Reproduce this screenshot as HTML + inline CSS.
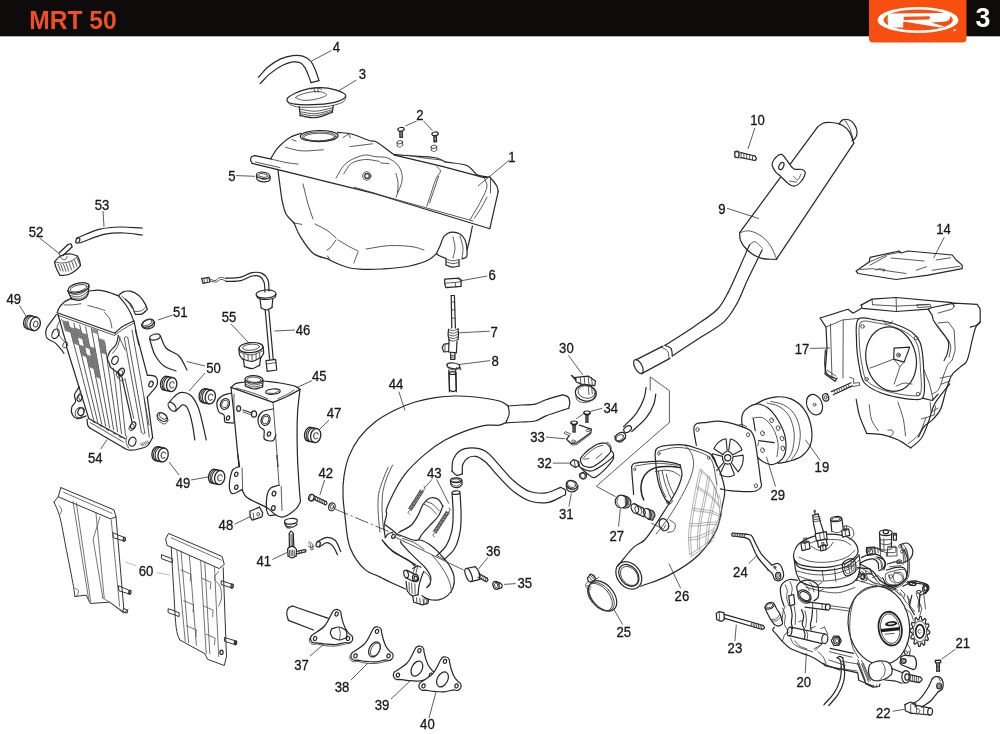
<!DOCTYPE html>
<html><head><meta charset="utf-8">
<style>
html,body{margin:0;padding:0;background:#fff;}
body{width:1000px;height:734px;overflow:hidden;position:relative;font-family:"Liberation Sans",sans-serif;}
#hdr{position:absolute;left:0;top:0;width:1000px;height:36px;background:#0e0c0b;}
#ttl{position:absolute;left:31px;top:5px;font-size:25px;line-height:28px;font-weight:bold;color:#f04f1f;transform:scaleX(.95);transform-origin:0 0;white-space:nowrap;letter-spacing:0;}
#tab{position:absolute;left:869px;top:0;width:97.5px;height:42.5px;background:#f84e10;border-radius:0 0 4px 4px;}
#pg{position:absolute;left:976px;top:3px;font-size:26px;line-height:28px;font-weight:bold;color:#fff;}
svg{position:absolute;left:0;top:0;will-change:transform;}
#ttl,#pg{will-change:transform;}
.l{fill:none;stroke:#262626;stroke-width:1.2;stroke-linecap:round;stroke-linejoin:round;}
.t{fill:none;stroke:#3c3c3c;stroke-width:.85;stroke-linecap:round;stroke-linejoin:round;}
.w{fill:#fff;stroke:#262626;stroke-width:1.2;stroke-linecap:round;stroke-linejoin:round;}
.n{font-family:"Liberation Sans",sans-serif;font-size:14.8px;fill:#161616;stroke:#161616;stroke-width:.3px;}
.ld2{fill:none;stroke:#aaa;stroke-width:.8;}
.ld{fill:none;stroke:#333;stroke-width:.8;}
</style></head><body>
<svg width="1000" height="734" viewBox="0 0 1000 734">
<!--LOGO-->
<rect x="0" y="0" width="1000" height="36.3" fill="#0e0c0b"/>
<path d="M869 0H966.5V38.5Q966.5 42.5 962.5 42.5H873Q869 42.5 869 38.5Z" fill="#f84e10"/>
<text x="29.3" y="28.5" font-family="Liberation Sans, sans-serif" font-weight="bold" font-size="26.2" fill="#f04f1f" textLength="87.4" lengthAdjust="spacingAndGlyphs">MRT 50</text>
<text x="975.6" y="26.6" font-family="Liberation Sans, sans-serif" font-weight="bold" font-size="26.8" fill="#fff">3</text>
<g id="logo">
<ellipse cx="918" cy="20" rx="40.5" ry="13" fill="#fff"/>
<ellipse cx="918.2" cy="20" rx="34.7" ry="10.5" fill="#f84e10"/>
<path d="M888.5 13.6L946 13.1Q951 13.4 950.2 17.2Q949.5 21.3 944 21.8L931 22.4L944.5 26.4L940 27.6L905 21.8L903.2 21.8L903.2 27.6L889 27.6Q886.5 20.5 888.5 13.6Z" fill="#fff"/>
<path d="M903.6 16.7L929.5 16.2Q930.6 17.8 929 19.4L903.6 19.9Z" fill="#f84e10"/>
<circle cx="954.6" cy="30.2" r="1.1" fill="#fff"/>
</g>
<defs><filter id="soft" x="0" y="0" width="1000" height="734" filterUnits="userSpaceOnUse"><feGaussianBlur stdDeviation="0.4"/></filter></defs>
<g filter="url(#soft)">
<!-- 10_tank.svg -->
<!-- tank 1 -->
<path class="l" d="M254.8 155.7C253.8 156 252.4 156 251.7 156.7C251 157.4 250.6 158.8 250.6 159.9C250.6 161 251.5 162 252 163.1"/>
<path class="l" d="M252 163.4 L277.9 169.7 L375 193.7 L489.8 228.7"/>
<path class="l" d="M254.8 155.7 L271.6 159.2"/>
<path class="t" d="M271.6 159.2C276.7 160.4 282.3 161.9 287 162.7C291 163.4 294.5 163.6 298.2 164.1"/>
<path class="t" d="M255.5 162 L280 167.6"/>
<path class="t" d="M354.2 187.2 L385 196.3 L473 221"/>
<path class="l" d="M270.9 158.5C273 155.2 274.4 151.9 277.2 148.7C280.7 144.7 286.7 139.4 291.2 136.8C294.6 134.9 297.7 134.5 301 133.3"/>
<path class="l" d="M337.4 132.3C342.1 132.9 346.4 132.8 351.4 134C357.5 135.4 366.9 140.2 371 141C372.8 141.4 373.4 140.6 375 141.2C378.4 142.4 385.4 148.4 389 151C391.3 152.7 392.7 153.8 394.6 155.2"/>
<ellipse class="l" cx="319.2" cy="136.1" rx="18.9" ry="5.6" transform="rotate(-1 319.2 136.1)"/>
<ellipse class="t" cx="319.2" cy="136.5" rx="17" ry="4.6" transform="rotate(-1 319.2 136.5)"/>
<ellipse class="t" cx="319.2" cy="137" rx="15.5" ry="3.8" transform="rotate(-1 319.2 137)"/>
<path class="t" d="M285.6 147.3C290.7 148.5 295.3 150.3 301 150.8C307.7 151.4 315.9 150.1 323.4 149.8"/>
<path class="t" d="M291.9 139.6 L296.1 141"/>
<path class="t" d="M343 137.5 L348.6 134 L350.3 137.8"/>
<path class="t" d="M350 146.6 L372.4 143.8"/>
<path class="t" d="M336 178.1C339.3 173.2 341.3 167.2 345.8 163.4C350.8 159.2 359.9 155.7 365.4 155C369.1 154.6 371.6 156.1 375 156.6C378.9 157.1 383.7 156.5 387.6 158C391.7 159.6 396.4 162.8 398.8 166.4C401.2 169.9 402.4 174.4 402.3 179C402.1 184.5 398.1 191.1 396 197.2"/>
<path class="t" d="M343.7 173.9C346.3 170.4 347.9 165.8 351.4 163.4C355.1 160.9 360.7 159.8 365.4 159.5C370 159.2 374.7 160.8 379.4 161.4"/>
<path class="t" d="M380.6 162.9 L389 163.6"/>
<path class="t" d="M396 173.4C396.7 176.7 397.9 179.9 398.1 183.2C398.3 186.5 397.6 189.7 397.4 193"/>
<circle class="t" cx="366.8" cy="176" r="4.2"/>
<circle class="l" cx="367.1" cy="176" r="2.4"/>
<path class="l" d="M277.9 169.7C278.6 175.1 279.3 180.8 280 185.8C280.6 190.3 281.3 196.2 281.7 198.4C281.8 199.2 281.8 199.2 282 200C282.6 202.4 283.8 210 286 214C288 217.6 291.3 220 294 223"/>
<path class="l" d="M294 223C296 227.3 297.2 231.5 300 236C303.5 241.7 308.7 250.2 314 254C318.3 257.1 323.3 257.3 328 259"/>
<path class="t" d="M294 223 L302 224.4"/>
<path class="l" d="M328 259C329.3 259.7 330.1 260.3 332 261.2C335.8 263 344.1 266.7 350 268C355.4 269.2 360.7 269.2 366 269.4C371.3 269.6 375.9 269.4 382 269C390 268.5 401.5 267.9 410 266C417.3 264.3 425.3 261.7 430 259C432.9 257.3 434.3 255.4 436.4 253.6"/>
<path class="t" d="M327.6 256 L330 260"/>
<path class="t" d="M303 184C304.7 190.7 306.2 197.8 308 204C309.6 209.4 311.3 214 313 219"/>
<path class="t" d="M315 224C319.3 226.3 324.3 228.4 328 231C331.1 233.2 333.3 235.7 336 238"/>
<path class="t" d="M336 240C334 242.7 331.8 246.3 330 248C328.9 249 328 249.3 327 250"/>
<path class="t" d="M338 240C342 242.3 346.4 245 350 247C352.9 248.6 355.3 249.7 358 251"/>
<path class="t" d="M358 252C357 254.7 355.7 258 355 260C354.6 261.2 354.3 262 354 263"/>
<path class="t" d="M366 249C374 247.9 382 245.9 390 245.6C398 245.3 407.8 245.9 414 247C418.1 247.7 420.7 249 424 250"/>
<path class="l" d="M436.4 253.6C437.6 251.1 438.8 248.7 440 246C441.3 243 442.1 238.7 444 236.4C445.6 234.5 447.6 232.9 450 232.4C452.8 231.8 457.4 232.5 460 234C462.3 235.3 463.8 237.6 465 240C466.3 242.8 466.8 247 467 250C467.1 252.5 467.5 255.5 466.4 257C465.5 258.2 463.5 258.3 462 259"/>
<path class="l" d="M436.4 253.6C437.6 254.4 438.6 255.3 440 256C441.7 256.9 444 257.6 446 258.4"/>
<path class="t" d="M453 237C453.7 240.7 455 244.4 455 248C455 251.4 453.7 254.7 453 258"/>
<path class="t" d="M460 236C461 240 462.7 244.2 463 248C463.3 251.5 462.3 254.7 462 258"/>
<path class="l" d="M446 259 L446 265"/>
<path class="l" d="M459 259.6 L459 266"/>
<path class="l" d="M446 265C448.1 265.7 450.2 267 452.4 267.2C454.6 267.4 456.8 266.4 459 266"/>
<path class="t" d="M446 261.6C448.1 262.3 450.2 263.5 452.4 263.6C454.6 263.7 456.8 262.8 459 262.4"/>
<path class="t" d="M446 259C448.1 259.6 450.2 260.7 452.4 260.8C454.6 260.9 456.8 260 459 259.6"/>
<path class="l" d="M467 250C468 246 469.1 242 470 238C470.9 234 471.6 230 472.4 226"/>
<path class="l" d="M394.6 155.2 L442.2 166.4 L484.2 177.6 L489.8 176.9"/>
<path class="l" d="M394.6 154.5C398.3 154.8 401.1 155.1 405.8 155.5C413.5 156.2 429.7 156.2 436.6 158C440.4 159 442.2 160.6 445 161.9"/>
<path class="t" d="M407.2 155.2C412.8 156.1 418.3 157.2 424 158C429.9 158.8 436.1 159.4 442.2 160.1"/>
<path class="l" d="M445 161.9C452.5 163.2 462.6 163.4 467.4 165.7C470.1 167 471.3 169 473 170.6C474.5 172 475.3 173.8 477.2 174.8C479.6 176.1 483.7 176.2 487 176.9"/>
<path class="l" d="M489.8 176.9C492.1 179.9 495.4 183.2 496.8 186C497.8 188 497.7 189.7 498.2 191.6"/>
<path class="l" d="M498.2 191.6 L489.8 228.7"/>
<path class="t" d="M436.6 166.4C437.9 167.9 440.3 169.2 440.5 170.9C440.7 172.9 438 174.5 436.6 177.6C433.8 183.7 430.1 196.7 426.8 206.3"/>
<path class="t" d="M438.7 176.2 L429.6 202.8"/>
<path class="t" d="M484.2 177.6C485.1 180.4 487.1 182.9 487 186C486.9 190.1 483.8 195 481.4 200C478.5 206.1 473.9 213.1 470.2 219.6"/>
<path class="t" d="M490.5 179 L490.5 193"/>
<path class="t" d="M487 197.2C484.7 201.4 482.3 206.1 480 209.8C478.1 212.9 476.3 215.4 474.4 218.2"/>

<!-- 15_top.svg -->
<!-- hose 4 -->
<path class="l" d="M258.3 77.4C261.4 74 264.1 70.3 267.6 67.3C271.3 64.2 275.9 61.1 280.2 59.1C284.2 57.3 288.7 56 292.7 55.6C296.2 55.2 299.7 55.2 302.7 56.1C305.5 57 308.2 58.5 310.2 60.6C312.5 62.9 313.8 66.6 315.3 69.9C316.8 73.3 317.8 77 319 80.6"/>
<path class="l" d="M260.1 83.6C263.4 80.3 266.4 76.6 270.1 73.6C273.9 70.5 278.5 67.3 282.7 65.3C286.4 63.5 290.6 62 293.9 61.8C296.4 61.7 298.8 62 300.7 63.1C302.6 64.2 304 66.2 305.2 68.1C306.5 70.1 307.3 72.5 308.2 74.9C309.2 77.4 310.1 80 311 82.6"/>
<path class="l" d="M311 82.6 L319 80.6"/>
<!-- cap 3 -->
<path class="l" d="M287.2 98.7C287.9 96.8 291.8 94.8 295.2 93.2C300.2 90.9 308.6 88.4 315.3 87.9C321.9 87.4 329.8 88.2 335.3 89.9C339.5 91.2 345.5 93.8 345.8 95.7C346 96.9 344.3 98.2 342.8 99.2C340.2 100.9 334.9 102.3 330.3 103.2C325 104.3 318.6 104.5 312.7 104.7C306.9 104.9 299.7 104.9 295.2 104.2C292.3 103.8 289.4 103.4 288.2 102.2C287.3 101.3 286.8 99.8 287.2 98.7Z"/>
<path class="t" d="M288.2 102.2C288.7 102.9 288.9 103.6 289.7 104.2C291.1 105.2 293.6 106.1 296.4 106.7C300.8 107.6 308.1 107.4 314 107.2C319.9 107 326.3 106.9 331.6 105.7C336.2 104.7 342 103.1 344.1 101.2C345.3 100.2 345.2 98.9 345.8 97.7"/>
<path class="t" d="M295.7 97.4C295.7 96.2 301.6 94.2 305.2 93.2C309.6 92 316.4 91 320.3 91.7C322.9 92.2 326.5 93.8 326.5 94.9C326.5 96.2 321.2 97.8 317.8 98.7C313.5 99.8 306.7 100.8 302.7 100.2C299.9 99.8 295.7 98.5 295.7 97.4Z"/>
<path class="t" d="M314 88.2 L315.3 92.4"/>
<path class="t" d="M317.8 88.2 L318.3 92.2"/>
<path class="t" d="M311.5 89.2C312.9 88.7 314.3 87.8 315.8 87.7C317.6 87.6 319.6 88.7 321.5 89.2"/>
<path class="l" d="M299.2 106.7 L300.2 115.7"/>
<path class="l" d="M333.3 105.7 L332.3 112.5"/>
<path class="l" d="M300.2 115.7C305.2 116.4 310.2 118.1 315.3 117.7C320.8 117.2 326.6 114.2 332.3 112.5"/>
<path class="t" d="M299.5 109.2C304.8 109.9 309.9 111.4 315.3 111.2C321.1 111 327.2 108.9 333.1 107.7"/>
<path class="t" d="M299.7 111.7C304.9 112.4 310 114 315.3 113.7C321 113.4 327 111 332.8 109.7"/>
<path class="t" d="M300 113.7C305.1 114.4 310.1 116 315.3 115.7C320.9 115.3 326.8 112.7 332.6 111.2"/>
<!-- screws 2 -->
<ellipse class="l" cx="401" cy="129.3" rx="3.2" ry="1.8" transform="rotate(-8 401 129.3)"/>
<path class="t" d="M397.8 130C398.9 130.8 399.9 132.3 401 132.3C402.1 132.3 403.2 130.6 404.3 129.8"/>
<path class="l" d="M399.8 131.8 L400 137.3"/>
<path class="l" d="M402.3 131.5 L402.5 137.1"/>
<path class="l" d="M400 137.3 L402.5 137.1"/>
<path class="t" d="M399.8 133 L402.5 132.8"/>
<path class="t" d="M399.8 134.5 L402.5 134.3"/>
<path class="t" d="M399.8 136.1 L402.5 135.8"/>
<ellipse class="t" cx="399.8" cy="142.3" rx="2.8" ry="1.6" transform="rotate(-8 399.8 142.3)"/>
<path class="t" d="M397 142.6 L397.3 145.8"/>
<path class="t" d="M402.5 142.1 L402.8 145.3"/>
<path class="t" d="M397.3 145.8C398.2 146.2 399.1 147.2 400 147.1C400.9 147 401.9 145.9 402.8 145.3"/>
<ellipse class="l" cx="435.1" cy="133.8" rx="3.2" ry="1.8" transform="rotate(-8 435.1 133.8)"/>
<path class="t" d="M431.9 134.5C433 135.3 434 136.8 435.1 136.8C436.2 136.8 437.3 135.1 438.4 134.3"/>
<path class="l" d="M433.9 136.3 L434.1 141.8"/>
<path class="l" d="M436.4 136.1 L436.6 141.6"/>
<path class="l" d="M434.1 141.8 L436.6 141.6"/>
<path class="t" d="M433.9 137.6 L436.6 137.3"/>
<path class="t" d="M433.9 139.1 L436.6 138.8"/>
<path class="t" d="M433.9 140.6 L436.6 140.3"/>
<ellipse class="t" cx="433.9" cy="146.8" rx="2.8" ry="1.6" transform="rotate(-8 433.9 146.8)"/>
<path class="t" d="M431.1 147.1 L431.4 150.3"/>
<path class="t" d="M436.6 146.6 L436.9 149.8"/>
<path class="t" d="M431.4 150.3C432.3 150.7 433.2 151.7 434.1 151.6C435 151.5 436 150.4 436.9 149.8"/>
<!-- grommet 5 -->
<ellipse class="l" cx="263.1" cy="175.4" rx="6.6" ry="3.2" transform="rotate(8 263.1 175.4)"/>
<ellipse class="t" cx="263.1" cy="175.4" rx="4.6" ry="1.8" transform="rotate(8 263.1 175.4)"/>
<path class="l" d="M256.6 174.4C256.8 176.1 256.2 178.2 257.1 179.4C258.2 180.9 261.7 181.8 263.9 181.9C265.9 182 268.6 181.5 269.6 180.4C270.4 179.5 269.9 177.7 270.1 176.4"/>
<path class="t" d="M256.8 176.9C259.1 177.7 261.4 179.2 263.6 179.4C265.7 179.6 267.8 178.6 269.9 178.2"/>

<!-- 20_rad.svg -->
<!-- hose 53 -->
<path class="l" d="M76.2 238.2C84.1 235.2 92.3 231 100 229.2C106.8 227.6 113.1 227.2 120 227C127.3 226.8 135 227.7 142.5 228"/>
<path class="l" d="M79.5 243C88 240.1 96.9 235.8 105 234.2C112 232.8 118.6 232.8 125 233C131 233.2 136.7 234.3 142.5 235"/>
<ellipse class="l" cx="77.8" cy="240.5" rx="1.8" ry="2.8" transform="rotate(25 77.8 240.5)"/>
<!-- cap 52 -->
<path class="l" d="M54.5 262C55.1 264 55.4 265.9 56.2 268C57.1 270.4 58.7 273 60 275.5"/>
<path class="l" d="M60 275.5C62.9 275.2 66.1 275.4 68.8 274.5C71.5 273.6 74.2 271.6 76.2 270C77.9 268.6 79.1 267 80.5 265.5"/>
<path class="l" d="M80.5 265.5C80.2 263.8 80 262.1 79.5 260.5C79 259 78.2 257.6 77.5 256.2"/>
<path class="l" d="M54.5 262C56.3 260.1 57.6 257.5 60 256.2C62.9 254.6 68 253.8 71.2 254C73.6 254.2 75.4 255.5 77.5 256.2"/>
<path class="t" d="M54.5 262C57.2 262.3 59.7 263.2 62.5 263C65.7 262.8 69.9 261.9 72.5 260.5C74.6 259.4 75.8 257.6 77.5 256.2"/>
<path class="t" d="M58 264.2 L60.5 270.6"/>
<path class="t" d="M60.8 264.5 L63.2 271.2"/>
<path class="t" d="M63.5 264.2 L66 271.4"/>
<path class="t" d="M66.2 263.8 L68.8 271.2"/>
<path class="t" d="M69 262.8 L71.5 269.9"/>
<path class="t" d="M71.8 261.5 L74.2 268.2"/>
<path class="t" d="M74.5 260 L77 266.4"/>
<path class="t" d="M77 258.2 L79.5 264.2"/>
<path class="l" d="M59 253 L68 244.5"/>
<path class="l" d="M63 255.5 L72 247"/>
<path class="l" d="M68 244.5C69 244.3 70.3 243.6 71 244C71.7 244.4 71.7 246 72 247"/>
<path class="t" d="M59 253C59.3 253.8 59.4 255.1 60 255.5C60.7 256 62 255.5 63 255.5"/>
<path class="t" d="M60 255C60.6 256.3 60.8 258.3 61.8 259C62.7 259.7 64.6 260 65.5 259.5C66.3 259.1 66.5 257.5 67 256.5"/>
<!-- grommet 49 a -->
<g transform="translate(32.5 323.2) rotate(15) scale(1.1)">
<ellipse class="l" cx="2.5" cy="0" rx="4.6" ry="6.2"/>
<path class="l" d="M2.5 -6.2L-3.5 -6.2A4.6 6.2 0 0 0 -3.5 6.2L2.5 6.2"/>
<path class="t" d="M-0.5 -6.2A4.6 6.2 0 0 0 -0.5 6.2M-2 -6.2A4.6 6.2 0 0 0 -2 6.2"/>
<ellipse class="t" cx="3" cy="0" rx="2" ry="2.8"/>
</g>
<!-- clip 51 -->
<ellipse class="l" cx="147.8" cy="323.2" rx="6.4" ry="3.6" transform="rotate(-22 147.8 323.2)"/>
<ellipse class="t" cx="147.5" cy="322.6" rx="5" ry="2.5" transform="rotate(-22 147.5 322.6)"/>
<path class="l" d="M141.4 324.7C142 325.7 142.1 327.1 143.1 327.8C144.4 328.7 147.2 328.9 149 328.6C150.8 328.3 153.2 327.1 154.1 325.8C154.8 324.7 154.4 323.2 154.6 321.9"/>
<path class="t" d="M142.2 326.4C143.9 326.9 145.6 328 147.3 327.8C149.1 327.6 150.9 326.1 152.7 325.2"/>
<!-- radiator 54 -->
<ellipse class="l" cx="78.5" cy="287.9" rx="10.8" ry="4.6" transform="rotate(-14 78.5 287.9)"/>
<ellipse class="t" cx="78.5" cy="288.2" rx="8.6" ry="3.2" transform="rotate(-14 78.5 288.2)"/>
<path class="l" d="M67.7 290.7 L71.7 299.2"/>
<path class="l" d="M89 285.6 L88.1 293.8"/>
<path class="l" d="M71.7 299.2C74.2 299.6 76.9 300.6 79.3 300.3C81.7 300 84.6 298.5 86.1 297.2C87.2 296.2 87.4 294.9 88.1 293.8"/>
<path class="t" d="M68.8 292.9C71.5 293.5 74.2 294.8 76.8 294.6C79.4 294.4 82.3 293.1 84.4 291.8C86.2 290.7 87.3 289.2 88.8 287.9"/>
<path class="t" d="M69.6 295.2C72.3 295.8 75 297.1 77.6 296.9C80.1 296.7 82.8 295.4 84.7 294.1C86.4 293 87.4 291.4 88.7 290.1"/>
<path class="t" d="M70.8 297.5C73.4 298 76 299.2 78.5 298.9C81 298.6 84.1 297.2 85.8 295.8C87.1 294.8 87.5 293.3 88.3 292.1"/>
<path class="l" d="M71.7 298.1C69.1 299.5 66.2 300.5 64 302.3C62 304 60.1 306.3 58.9 308.2C58 309.7 57.8 311.3 57.2 312.8"/>
<path class="l" d="M88.7 291.2C91.8 290.8 94.8 290 98 290.1C101.3 290.2 104.8 291.2 108.2 292.1C111.6 293.1 115 294.6 118.4 295.8"/>
<path class="l" d="M118.4 295.8C120.7 298.5 123.2 301.2 125.2 304C127.1 306.7 128.9 309.6 130.3 312.5C131.7 315.3 132.6 318.2 133.7 321"/>
<path class="l" d="M57.2 312.8 L115 333.2"/>
<path class="l" d="M115 333.2C117.3 331.1 119.1 328.8 121.8 326.9C125.1 324.6 129.7 323 133.7 321"/>
<path class="t" d="M57.5 315.1 L114.5 335.4"/>
<path class="t" d="M114.5 335.4C117.2 333.4 119.7 331.4 122.7 329.5C126.1 327.3 130.2 325.2 134 323"/>
<path class="t" d="M64 304.9C66.8 304.9 69.7 305.1 72.5 304.9C75.3 304.7 78.2 304.1 81 303.7"/>
<path class="t" d="M87.8 305.4C91.2 306.3 95 307.3 98 308.2C100.5 309 102.5 309.7 104.8 310.5"/>
<path class="t" d="M104.8 312.5C106.5 314.8 108.7 316.8 109.9 319.3C111.1 321.9 111.2 325 111.9 327.8"/>
<path class="l" d="M118.4 295.8C119.8 294.6 120.9 292.9 122.7 292.1C124.8 291.2 127.8 290.8 130.3 291.2C133.1 291.7 136.3 293.4 138.8 295.5C141.5 297.8 144.2 302.3 145.6 304.9C146.5 306.6 146.7 307.9 147.3 309.4"/>
<path class="l" d="M125.2 299.2C127.2 301.1 129.6 302.6 131.2 304.9C133.1 307.5 134 311.3 135.4 314.5"/>
<path class="l" d="M135.4 314.5C137.7 314.3 140.2 314.8 142.2 313.9C144.2 313 145.6 310.9 147.3 309.4"/>
<path class="t" d="M134 311.6C136.5 311.3 139.3 311.7 141.4 310.8C143.4 310 144.7 308 146.3 306.6"/>
<path class="t" d="M121.8 296.4C123.8 298.1 126.1 299.4 127.8 301.4C129.5 303.4 130.6 305.9 132 308.2"/>
<path class="l" d="M56.4 314.5C54.4 317.2 52.2 320.1 50.4 322.7C48.8 325 46.8 327 46.2 329.5C45.6 332.1 45.6 335.8 47 338C48.5 340.4 53 341.1 55.5 343.1C57.8 345.1 60 348 61.5 349.9C62.5 351.2 63.2 352.2 64 353.3"/>
<path class="t" d="M61.5 319.3C60.1 321.6 57.7 323.6 57.2 326.1C56.7 328.7 57.8 332 58.9 334.6C60 337.1 62.3 339.1 64 341.4"/>
<ellipse class="l" cx="55.5" cy="333.8" rx="3.3" ry="5" transform="rotate(25 55.5 333.8)"/>
<ellipse class="t" cx="65.2" cy="344.8" rx="2.2" ry="3.3" transform="rotate(25 65.2 344.8)"/>
<path class="l" d="M58 314.5 L66.6 344.8 L66.6 347 L88.7 418.4"/>
<path class="t" d="M67.9 321.3 L93.8 420.3"/>
<path class="t" d="M73.8 323.2 L97.7 422.2"/>
<path class="t" d="M79.7 325 L101.7 424.2"/>
<path class="t" d="M85.6 326.9 L105.7 426.1"/>
<path class="t" d="M91.4 328.7 L109.6 428"/>
<path class="t" d="M97.3 330.6 L113.6 429.9"/>
<path class="t" d="M104.7 342.4 L117.6 431.9"/>
<path class="t" d="M113.3 368.1 L121.5 433.8"/>
<path class="t" d="M118.8 372 L125.5 435.7"/>
<path class="t" d="M62.3 320.5 L68.1 322.3 L70.7 332.2 L65.1 330.4Z" style="fill:#9a9a9a;stroke:none"/>
<path class="t" d="M62.3 320.5L68.1 322.3 M62.7 322.1L68.6 324 M63.2 323.8L69 325.6 M63.7 325.4L69.4 327.3 M64.1 327.1L69.9 328.9 M64.6 328.7L70.3 330.6 M65.1 330.4L70.7 332.2" style="stroke-width:.6;stroke:#444"/>
<path class="t" d="M69.4 327.3 L75.2 329.1 L79 345 L73.6 343.1Z" style="fill:#9a9a9a;stroke:none"/>
<path class="t" d="M69.4 327.3L75.2 329.1 M69.9 329L75.6 330.9 M70.4 330.8L76.1 332.7 M70.8 332.6L76.5 334.4 M71.3 334.3L76.9 336.2 M71.7 336.1L77.3 337.9 M72.2 337.8L77.8 339.7 M72.7 339.6L78.2 341.5 M73.1 341.4L78.6 343.2 M73.6 343.1L79 345" style="stroke-width:.6;stroke:#444"/>
<path class="t" d="M75 328.1 L80.8 330 L82.8 338.9 L77.1 337.1Z" style="fill:#9a9a9a;stroke:none"/>
<path class="t" d="M75 328.1L80.8 330 M75.4 329.9L81.2 331.8 M75.8 331.7L81.6 333.6 M76.3 333.5L82 335.3 M76.7 335.3L82.4 337.1 M77.1 337.1L82.8 338.9" style="stroke-width:.6;stroke:#444"/>
<path class="t" d="M79 345 L84.5 346.8 L86.7 356.8 L81.4 354.9Z" style="fill:#9a9a9a;stroke:none"/>
<path class="t" d="M79 345L84.5 346.8 M79.4 346.6L84.9 348.5 M79.8 348.3L85.2 350.1 M80.2 349.9L85.6 351.8 M80.6 351.6L86 353.5 M81 353.2L86.4 355.1 M81.4 354.9L86.7 356.8" style="stroke-width:.6;stroke:#444"/>
<path class="t" d="M81.4 333 L87.2 334.8 L90 348.7 L84.5 346.8Z" style="fill:#9a9a9a;stroke:none"/>
<path class="t" d="M81.4 333L87.2 334.8 M81.8 334.7L87.5 336.6 M82.2 336.4L87.9 338.3 M82.6 338.2L88.2 340 M83 339.9L88.6 341.8 M83.4 341.6L88.9 343.5 M83.7 343.4L89.3 345.2 M84.1 345.1L89.6 347 M84.5 346.8L90 348.7" style="stroke-width:.6;stroke:#444"/>
<path class="t" d="M86.3 354.8 L91.6 356.6 L94 368.5 L88.9 366.7Z" style="fill:#9a9a9a;stroke:none"/>
<path class="t" d="M86.3 354.8L91.6 356.6 M86.7 356.5L91.9 358.3 M87 358.2L92.3 360 M87.4 359.9L92.6 361.7 M87.8 361.6L93 363.4 M88.2 363.3L93.3 365.1 M88.5 365L93.7 366.8 M88.9 366.7L94 368.5" style="stroke-width:.6;stroke:#444"/>
<path class="t" d="M89.6 346.7 L95.1 348.6 L100.5 378.4 L95.6 376.5Z" style="fill:#9a9a9a;stroke:none"/>
<path class="t" d="M89.6 346.7L95.1 348.6 M89.9 348.4L95.4 350.2 M90.2 350L95.7 351.9 M90.6 351.7L96 353.5 M90.9 353.3L96.3 355.2 M91.3 355L96.6 356.9 M91.6 356.6L96.9 358.5 M91.9 358.3L97.2 360.2 M92.3 359.9L97.5 361.8 M92.6 361.6L97.8 363.5 M92.9 363.3L98.1 365.1 M93.3 364.9L98.4 366.8 M93.6 366.6L98.7 368.4 M93.9 368.2L99 370.1 M94.3 369.9L99.3 371.7 M94.6 371.5L99.6 373.4 M94.9 373.2L99.9 375.1 M95.3 374.8L100.2 376.7 M95.6 376.5L100.5 378.4" style="stroke-width:.6;stroke:#444"/>
<path class="t" d="M98.6 338.5 L104.4 340.4 L106.4 354.3 L100.9 352.4Z" style="fill:#9a9a9a;stroke:none"/>
<path class="t" d="M98.6 338.5L104.4 340.4 M98.9 340.3L104.6 342.1 M99.2 342L104.9 343.8 M99.5 343.7L105.1 345.6 M99.8 345.5L105.4 347.3 M100.1 347.2L105.6 349.1 M100.3 348.9L105.9 350.8 M100.6 350.7L106.1 352.5 M100.9 352.4L106.4 354.3" style="stroke-width:.6;stroke:#444"/>
<path class="t" d="M91.4 328.7 L97.3 330.6 L97.8 333.5 L92 331.7Z" style="fill:#9a9a9a;stroke:none"/>
<path class="t" d="M91.4 328.7L97.3 330.6 M92 331.7L97.8 333.5" style="stroke-width:.6;stroke:#444"/>
<path class="l" d="M88.7 418.4 L125.2 438.8"/>
<path class="l" d="M87 419.2C87.3 421.2 87.2 423.7 87.8 425.2C88.2 426.3 88.9 426.9 89.5 427.8"/>
<path class="l" d="M89.5 427.8 L123.2 447.6"/>
<path class="t" d="M90.3 422.6 L123.5 442.2"/>
<path class="t" d="M92.9 421.8 L94.9 422.8"/>
<path class="t" d="M99.7 425.5 L101.7 426.6"/>
<path class="t" d="M106.5 429.4 L108.5 430.5"/>
<path class="t" d="M113.3 433.2 L115.3 434.2"/>
<path class="t" d="M119.2 436.6 L121.3 437.6"/>
<path class="l" d="M123.2 447.6C125 448.4 126.5 449.7 128.6 450C131.4 450.5 135.6 449.8 138.8 449C141.9 448.3 145.3 447.5 147.6 445.6C149.8 443.8 150.8 440.5 152.4 437.9"/>
<ellipse class="l" cx="132.3" cy="441.7" rx="3.6" ry="4.6" transform="rotate(20 132.3 441.7)"/>
<path class="t" d="M126.9 436.2C126.6 438.2 125.8 440.2 126.1 442.2C126.4 444.2 127.8 446.1 128.6 448.1"/>
<ellipse class="l" cx="133.2" cy="425.5" rx="2.4" ry="3.6" transform="rotate(20 133.2 425.5)"/>
<ellipse class="t" cx="131.6" cy="427.3" rx="2.4" ry="3.6" transform="rotate(20 131.6 427.3)"/>
<path class="l" d="M134 321 L138.8 344.8 L135.4 330 L147.3 375.1"/>
<path class="l" d="M147.3 375.1C150.1 375.7 154.2 375.1 155.8 376.8C157.3 378.4 157.7 382 157.2 384.4C156.7 386.9 154.1 389.1 152.4 391.2C150.8 393.3 149 395.1 147.3 397.1"/>
<ellipse class="l" cx="151" cy="384.1" rx="2" ry="3" transform="rotate(25 151 384.1)"/>
<path class="l" d="M147.3 397.1 L152.7 437.9"/>
<path class="t" d="M144.2 398 L149.3 437.1"/>
<path class="t" d="M124.4 338.5 L141.4 432"/>
<path class="t" d="M127.8 337.6 L144.8 432.9"/>
<path class="t" d="M124.4 338.5C124.8 337.8 125 336.7 125.5 336.5C126.1 336.3 127 337.2 127.8 337.6"/>
<path class="t" d="M141.4 432C142.1 432.7 143 434 143.6 434C144.1 434 144.4 433.3 144.8 432.9"/>
<path class="t" d="M132 330 L149 425.2"/>
<path class="t" d="M118.4 335.4 L125.2 349.9"/>
<path class="l" d="M121.8 376.8 L132 421.8"/>
<path class="t" d="M125.2 379.3 L133.7 418.4"/>
<path class="t" d="M140.5 443.6 L142.2 445.9"/>
<path class="t" d="M142.2 442.9 L143.9 445.3"/>
<path class="t" d="M143.9 442.2 L145.6 444.6"/>
<path class="t" d="M145.6 441.5 L147.3 443.9"/>
<path class="t" d="M147.3 440.8 L149 443.2"/>
<path class="l" d="M118.4 335.4C117.6 338.5 117.4 342.1 115.9 344.8C114.5 347.4 111.3 349.2 109.9 351.6C108.6 353.8 107.4 356.1 107.4 358.4C107.4 360.7 109.6 363.8 109.9 365.2C110 365.8 109.7 366.1 109.9 366.6C110.4 367.7 113.2 369.4 115 370.8C117.1 372.4 119.5 374.2 121.8 375.9"/>
<path class="t" d="M120.1 337.1C119.3 340.2 118.9 343.7 117.6 346.5C116.3 349.1 114.2 351 112.5 353.3"/>
<ellipse class="l" cx="115" cy="360.3" rx="3" ry="4.4" transform="rotate(25 115 360.3)"/>
<ellipse class="l" cx="121.3" cy="372" rx="2.8" ry="4" transform="rotate(25 121.3 372)"/>
<ellipse class="t" cx="119.5" cy="373.5" rx="2.8" ry="4" transform="rotate(25 119.5 373.5)"/>
<path class="t" d="M117.6 377.6C119 378.7 120.5 381 121.8 381C123 381 124.1 379.3 125.2 378.4"/>
<path class="l" d="M79.3 386.9C77.7 389.5 75 392 74.5 394.6C74 396.9 76 399.3 75.6 401.4C75.1 403.6 72.2 405.2 71.7 407.4C71.1 409.7 71.4 413.1 72.5 415C73.5 416.7 75.6 418.4 77.6 418.7C80 419.1 83.3 416.8 86.1 415.9"/>
<path class="t" d="M81 391.2C80.2 392.9 78.5 394.6 78.5 396.3C78.5 398 80.2 399.7 81 401.4"/>
<ellipse class="l" cx="79.6" cy="398" rx="2.4" ry="3.4" transform="rotate(20 79.6 398)"/>
<ellipse class="l" cx="81" cy="411.6" rx="3" ry="4" transform="rotate(20 81 411.6)"/>
<ellipse class="t" cx="79.5" cy="412.6" rx="4.2" ry="5.2" transform="rotate(20 79.5 412.6)"/>

<!-- 30_res.svg -->
<!-- grommets -->
<g transform="translate(169 384) rotate(12) scale(1.1)">
<path class="l" d="M2.5 -6.4L-3.5 -6.4A4.2 6.4 0 0 0 -3.5 6.4L2.5 6.4"/>
<ellipse class="l" cx="2.5" cy="0" rx="4.6" ry="6.4"/>
<path class="l" d="M-0.3 -6.4A4.4 6.4 0 0 0 -0.3 6.4M-1.8 -6.4A4.4 6.4 0 0 0 -1.8 6.4" style="stroke-width:.9"/>
<path class="t" d="M4.6 -1.6A2.1 2.9 0 1 0 4.6 1.8"/>
</g>
<g transform="translate(207.6 396.4) rotate(12) scale(1.1)">
<path class="l" d="M2.5 -6.4L-3.5 -6.4A4.2 6.4 0 0 0 -3.5 6.4L2.5 6.4"/>
<ellipse class="l" cx="2.5" cy="0" rx="4.6" ry="6.4"/>
<path class="l" d="M-0.3 -6.4A4.4 6.4 0 0 0 -0.3 6.4M-1.8 -6.4A4.4 6.4 0 0 0 -1.8 6.4" style="stroke-width:.9"/>
<path class="t" d="M4.6 -1.6A2.1 2.9 0 1 0 4.6 1.8"/>
</g>
<g transform="translate(313 435) rotate(12) scale(1.1)">
<path class="l" d="M2.5 -6.4L-3.5 -6.4A4.2 6.4 0 0 0 -3.5 6.4L2.5 6.4"/>
<ellipse class="l" cx="2.5" cy="0" rx="4.6" ry="6.4"/>
<path class="l" d="M-0.3 -6.4A4.4 6.4 0 0 0 -0.3 6.4M-1.8 -6.4A4.4 6.4 0 0 0 -1.8 6.4" style="stroke-width:.9"/>
<path class="t" d="M4.6 -1.6A2.1 2.9 0 1 0 4.6 1.8"/>
</g>
<g transform="translate(160.4 454.4) rotate(12) scale(1.1)">
<path class="l" d="M2.5 -6.4L-3.5 -6.4A4.2 6.4 0 0 0 -3.5 6.4L2.5 6.4"/>
<ellipse class="l" cx="2.5" cy="0" rx="4.6" ry="6.4"/>
<path class="l" d="M-0.3 -6.4A4.4 6.4 0 0 0 -0.3 6.4M-1.8 -6.4A4.4 6.4 0 0 0 -1.8 6.4" style="stroke-width:.9"/>
<path class="t" d="M4.6 -1.6A2.1 2.9 0 1 0 4.6 1.8"/>
</g>
<g transform="translate(217 477) rotate(12) scale(1.1)">
<path class="l" d="M2.5 -6.4L-3.5 -6.4A4.2 6.4 0 0 0 -3.5 6.4L2.5 6.4"/>
<ellipse class="l" cx="2.5" cy="0" rx="4.6" ry="6.4"/>
<path class="l" d="M-0.3 -6.4A4.4 6.4 0 0 0 -0.3 6.4M-1.8 -6.4A4.4 6.4 0 0 0 -1.8 6.4" style="stroke-width:.9"/>
<path class="t" d="M4.6 -1.6A2.1 2.9 0 1 0 4.6 1.8"/>
</g>
<!-- clip ring near hose -->
<ellipse class="l" cx="162.4" cy="417" rx="5.6" ry="3.6" transform="rotate(35 162.4 417)"/>
<ellipse class="t" cx="162.9" cy="416.2" rx="4.2" ry="2.4" transform="rotate(35 162.9 416.2)"/>
<path class="t" d="M157 415C157.3 416.7 157 418.6 158 420C159.3 421.8 163.2 424.3 165 424C166.5 423.7 167.3 421.3 168.4 420"/>
<!-- hose 50 upper -->
<ellipse class="l" cx="155" cy="337" rx="5.4" ry="2.8" transform="rotate(-15 155 337)"/>
<path class="l" d="M149.6 339C151.4 344.3 152.4 350.4 155 355C157.4 359.3 160.4 363.3 164 366C167.4 368.6 172 369.3 176 371"/>
<path class="l" d="M160.4 336C162.3 340 163.1 344.7 166 348C169.1 351.5 175.5 352.4 179 356C182.6 359.7 184.3 365.3 187 370"/>
<!-- hose 50 lower -->
<ellipse class="l" cx="172.1" cy="406.7" rx="3" ry="5.2" transform="rotate(-38 172.1 406.7)"/>
<path class="l" d="M169.5 402.2C170.9 400.5 172.3 398.7 173.8 397.2C175.1 395.9 176.2 394.6 177.7 393.8C179.1 393 180.6 392.4 182.4 392.4C184.6 392.4 187.7 393.1 190 394.8C193 397 195.6 401.6 197.7 406.2C200.3 412 201.9 421 203.4 427.2C204.6 432 205.3 435.7 206.3 440"/>
<path class="l" d="M175.7 411C177 409.7 178.4 408.3 179.6 407.2C180.6 406.3 181.3 405.1 182.4 404.9C183.5 404.7 185.1 405.2 186.2 406.2C187.9 407.7 188.9 411.6 190 414.8C191.2 418.5 192.1 423 192.9 427.2C193.7 431.4 194.2 435.7 194.8 440"/>
<!-- cap 55 -->
<ellipse class="l" cx="251" cy="347.6" rx="12" ry="5" transform="rotate(-5 251 347.6)"/>
<ellipse class="t" cx="251" cy="347.2" rx="8.5" ry="3" transform="rotate(-5 251 347.2)"/>
<path class="l" d="M239 348.6C239.2 350.7 238.9 353.2 239.6 355C240.2 356.6 241.5 357.7 242.4 359"/>
<path class="l" d="M263 346.6C263.2 348.7 264 351.1 263.6 353C263.2 354.7 261.9 355.9 261 357.4"/>
<path class="l" d="M242.4 359C245.6 359.8 248.9 361.7 252 361.4C255.1 361.1 258 358.7 261 357.4"/>
<path class="t" d="M239.4 352C243.3 353 247.1 355.2 251 355C255.1 354.8 259.3 352.1 263.4 350.6"/>
<path class="t" d="M244 354.4 L244.2 359.4"/>
<path class="t" d="M248 355 L248.2 360"/>
<path class="t" d="M252 355 L252.2 360"/>
<path class="t" d="M256 354.4 L256.2 359.4"/>
<path class="t" d="M259.6 353 L259.8 358"/>
<path class="l" d="M243.4 359.4 L244.4 366.6"/>
<path class="l" d="M260.6 358 L259.6 365.4"/>
<path class="l" d="M244.4 366.6C246.9 367.3 249.5 368.8 252 368.6C254.6 368.4 257.1 366.5 259.6 365.4"/>
<!-- sensor 46 -->
<path class="l" d="M201.6 278.6 L209 277.4 L210 282 L203 283.4Z"/>
<path class="t" d="M204 279 L204.4 282.6"/>
<path class="t" d="M207 278.4 L207.4 282.2"/>
<path class="t" d="M210 279C211.7 279.5 213.4 280.8 215 280.6C216.7 280.4 218.2 277.7 220 277.4C221.8 277.1 224 278.2 226 278.6"/>
<path class="t" d="M210 281C212 281.3 214.1 282.3 216 282C217.8 281.7 219.3 279.5 221 279.4C222.6 279.3 224.3 280.5 226 281"/>
<path class="l" d="M226 278.2C230.7 277.9 235.6 278.4 240 277.4C244.2 276.5 248.1 273.2 252 272.6C255.4 272.1 259.3 272.1 262 273.4C264.6 274.7 266.8 277.3 268 280C269.3 283 268.7 287.3 269 291"/>
<path class="l" d="M226 281.4C231 281.1 236.5 281.6 241 280.6C245 279.7 248.6 276.6 252 276C254.8 275.5 258 275.5 260 276.6C261.9 277.6 263.1 279.8 264 282C265 284.7 264.7 288.7 265 292"/>
<ellipse class="l" cx="266" cy="294" rx="10" ry="4" transform="rotate(-3 266 294)"/>
<path class="l" d="M256.4 295C256.9 296 257 297.3 258 298C259.5 299.1 263.3 299.5 266 299.4C268.9 299.3 273.5 298.8 275 297.4C275.9 296.5 275.7 295.1 276 294"/>
<path class="l" d="M260 299 L261.2 308"/>
<path class="l" d="M272.8 298.6 L272 307.4"/>
<path class="l" d="M261.2 308C262.9 308.7 264.6 310.1 266.4 310C268.2 309.9 270.1 308.3 272 307.4"/>
<path class="l" d="M265.2 310 L269.6 359"/>
<path class="l" d="M268.8 310 L273.2 359"/>
<path class="l" d="M266 360.6 L275.6 359.4 L276.8 370 L267.2 371.4Z"/>
<path class="t" d="M266.4 364 L276 362.6"/>
<!-- reservoir 45 -->
<ellipse class="l" cx="254" cy="379.4" rx="9" ry="3.7" transform="rotate(3 254 379.4)"/>
<ellipse class="t" cx="254" cy="379.7" rx="7" ry="2.6" transform="rotate(3 254 379.7)"/>
<path class="l" d="M245 380 L245.4 386"/>
<path class="l" d="M263 380.6 L262.6 387"/>
<path class="l" d="M245.4 386C248.1 387 250.8 388.8 253.6 389C256.5 389.2 259.6 387.7 262.6 387"/>
<path class="t" d="M245.2 382C248 383 250.7 384.8 253.6 385C256.6 385.2 259.7 383.7 262.8 383"/>
<path class="t" d="M245.2 384C248 385 250.7 386.8 253.6 387C256.6 387.2 259.7 385.7 262.8 385"/>
<ellipse class="l" cx="273" cy="391.6" rx="7.2" ry="2.6" transform="rotate(-5 273 391.6)"/>
<path class="t" d="M268 393C269.9 393.1 271.8 393.7 273.6 393.4C275.5 393.1 277.2 391.8 279 391"/>
<path class="l" d="M245 382C242 382.5 238.4 382.3 236 383.4C233.9 384.3 232.7 386.1 231 387.4"/>
<path class="l" d="M263 381C268.7 381.7 274.4 382.1 280 383C285.4 383.9 292.5 385.1 296 386.6C297.9 387.4 298.7 388.5 300 389.4"/>
<path class="l" d="M231 387.4 L273 402.4"/>
<path class="l" d="M273 402.4C278 400.3 283.3 398.3 288 396C292.3 393.9 296 391.6 300 389.4"/>
<path class="t" d="M236 388C242.7 390 250.2 391.9 256 394C260.6 395.6 264 397.3 268 399"/>
<path class="t" d="M278 398.6C281.3 397.1 285.1 395.6 288 394C290.3 392.7 292 391.3 294 390"/>
<path class="l" d="M231 387.4C232 396.6 232.9 404.4 234 415C235.5 429.6 237.3 449.7 239 467"/>
<path class="l" d="M237.9 455 L239.6 466.3"/>
<path class="t" d="M273 402.4 L278 467 L276.9 455 L279.1 485.6"/>
<path class="l" d="M300 389.4C299.2 396.9 298.1 403.3 297.6 412C296.9 424 297 441.2 297.4 455C297.8 467.8 299 483.7 299.6 492C299.9 496.2 300.2 498.4 300.5 501.6"/>
<path class="l" d="M242.1 489.6C243.3 491.9 243.5 494.2 245.8 496.5C249.8 500.5 261.8 504.4 267.5 508.1C271.5 510.7 274.1 514.4 277.2 515.8C279.4 516.8 281.2 517.4 283.6 516.9C287.3 516.1 293.6 511.4 296.5 508.4C298.6 506.2 299.2 503.9 300.5 501.6"/>
<ellipse class="l" cx="238.6" cy="408.6" rx="2" ry="2.8"/>
<path class="l" d="M243 410 L252 413"/>
<path class="t" d="M243 412 L251.6 415"/>
<ellipse class="l" cx="254" cy="414" rx="2.6" ry="3.2"/>
<path class="l" d="M231 393C228 394 224.4 394.4 222 396C219.8 397.5 217.6 399.6 217 402C216.3 404.8 217.5 409.8 219 412C220.2 413.7 223 413.5 224 415C225.1 416.7 223.6 420.6 225 422C226.6 423.6 231 422.7 234 423"/>
<path class="t" d="M234 394 L234 423"/>
<ellipse class="l" cx="225" cy="404" rx="4.4" ry="5.6" transform="rotate(20 225 404)"/>
<ellipse class="t" cx="225" cy="404" rx="3" ry="4" transform="rotate(20 225 404)"/>
<ellipse class="l" cx="228" cy="418" rx="1.6" ry="2.2" transform="rotate(20 228 418)"/>
<path class="l" d="M273 409C269.3 410 264.5 410 262 412C259.9 413.7 258.3 416.5 258 419C257.7 421.5 258.7 425.1 260 427C261 428.5 263.2 428.5 264 430C265.1 432.1 262.9 437.2 264.4 439C265.9 440.7 271 441.5 273 440.6C274.7 439.8 275 436.9 276 435"/>
<ellipse class="l" cx="265.6" cy="420" rx="4.4" ry="5.6" transform="rotate(20 265.6 420)"/>
<ellipse class="t" cx="265.6" cy="420" rx="3" ry="4" transform="rotate(20 265.6 420)"/>
<ellipse class="l" cx="269" cy="434" rx="1.6" ry="2.2" transform="rotate(20 269 434)"/>
<path class="l" d="M239.6 466.3C237.4 467.4 234.5 467.9 233 469.5C231.5 471.1 231.2 473.3 230.6 475.9C229.8 479.6 228.9 486.5 229.7 489.6C230.2 491.4 230.8 493.2 232.2 493.6C234.3 494.3 238.8 490.9 242.1 489.6"/>
<path class="t" d="M242.1 467.9 L242.6 489.6"/>
<ellipse class="l" cx="236.3" cy="474.3" rx="1.6" ry="2.2" transform="rotate(20 236.3 474.3)"/>
<ellipse class="l" cx="236.3" cy="487.2" rx="1.6" ry="2.2" transform="rotate(20 236.3 487.2)"/>
<path class="l" d="M279.1 485.2C276.3 486.1 272.8 486.4 270.8 488C269.1 489.4 268.2 491.1 267.5 493.6C266.3 497.6 265.9 506.7 266.7 510.5C267.2 512.7 267.7 514.5 269.1 515.3C270.6 516.1 273.4 515 275.6 514.8"/>
<path class="t" d="M281.2 486.4 L282 510.5"/>
<ellipse class="l" cx="274" cy="493.6" rx="1.8" ry="2.4" transform="rotate(20 274 493.6)"/>
<ellipse class="l" cx="273.3" cy="508.1" rx="1.8" ry="2.4" transform="rotate(20 273.3 508.1)"/>
<!-- clip 48 -->
<path class="l" d="M249.8 511.3 L259.5 507.3 L262.7 512.9 L261.9 516.9 L252.3 520.1 L250.2 516.9Z"/>
<path class="t" d="M253.1 512.9 L253.9 519.3"/>
<ellipse class="t" cx="258.2" cy="514.2" rx="1.4" ry="1.8"/>
<path class="t" d="M256.3 508.4 L259.8 506.5"/>
<!-- bolt 42 -->
<ellipse class="l" cx="311.3" cy="497.5" rx="2.6" ry="3.4" transform="rotate(20 311.3 497.5)"/>
<ellipse class="t" cx="312.3" cy="497.9" rx="2.6" ry="3.4" transform="rotate(20 312.3 497.9)"/>
<path class="l" d="M314.5 496 L326.2 501.6"/>
<path class="l" d="M313.8 499.2 L325.4 504.8"/>
<path class="t" d="M316.1 497.1 L315.3 500.3"/>
<path class="t" d="M317.9 497.9 L317.1 501.2"/>
<path class="t" d="M319.6 498.7 L318.8 502"/>
<path class="t" d="M321.4 499.5 L320.6 502.8"/>
<path class="t" d="M323.2 500.3 L322.4 503.6"/>
<path class="t" d="M324.9 501.2 L324.1 504.4"/>
<path class="l" d="M326.2 501.6C326.5 502.3 327.2 503.1 327 503.6C326.9 504.1 325.9 504.4 325.4 504.8"/>
<ellipse class="l" cx="331.9" cy="506.8" rx="3.2" ry="4" transform="rotate(20 331.9 506.8)"/>
<ellipse class="t" cx="331.9" cy="506.8" rx="1.6" ry="2.2" transform="rotate(20 331.9 506.8)"/>
<!-- valve 41 -->
<ellipse class="l" cx="290.9" cy="521.3" rx="6.4" ry="2.8" transform="rotate(-5 290.9 521.3)"/>
<path class="l" d="M284.7 522.5C285.1 523.6 285.1 525 286 525.8C287.4 526.9 291.3 527.5 293.3 527C294.9 526.6 296 525.1 297.3 524.1"/>
<path class="t" d="M285.2 524.1C285.7 525.3 285.9 527 286.8 527.7C287.6 528.3 289 528 290.1 528.2"/>
<path class="t" d="M284.9 524.5 L288.1 528.2 L290.1 525.8"/>
<path class="l" d="M289.2 533.8C289.8 532.9 290.3 531.3 291 531.2C291.7 531.1 292.5 532.7 293.3 533.5"/>
<path class="l" d="M289.2 533.8 L289.4 547.5"/>
<path class="l" d="M293.3 533.5 L293.9 547"/>
<path class="t" d="M290.9 534.6 L291.2 546.7"/>
<path class="t" d="M292.1 534.6 L292.6 546.7"/>
<path class="l" d="M287.6 549.1C288.2 548.4 288.5 547.4 289.4 547C290.5 546.5 293 546.4 294.2 547C295.2 547.5 295.7 548.7 296.5 549.6"/>
<path class="l" d="M287.6 549.1 L288.1 556.3"/>
<path class="l" d="M296.5 549.6 L296.2 556"/>
<path class="l" d="M288.1 556.3C289.4 556.8 290.7 557.9 292 557.9C293.4 557.9 294.8 556.6 296.2 556"/>
<path class="t" d="M289.4 550.2 L289.6 556"/>
<path class="t" d="M291 550.2 L291.2 556"/>
<path class="t" d="M292.6 550.2 L292.8 556"/>
<path class="t" d="M294.2 550.2 L294.4 556"/>
<path class="l" d="M296.5 551.5 L304.5 549.6"/>
<path class="l" d="M296.8 553.9 L305.3 551.8"/>
<path class="l" d="M304.5 549.6C305 549.8 306 549.8 306.1 550.2C306.2 550.6 305.6 551.3 305.3 551.8"/>
<path class="t" d="M298.9 551 L299.4 553.3"/>
<path class="t" d="M301.3 550.5 L301.8 552.8"/>
<!-- small clip + hose -->
<path class="t" d="M308.5 542.6C309.2 543.4 310.2 544 310.6 545.1C311.1 546.4 310.3 549.4 311 549.9C311.5 550.2 312.6 549.4 313.4 549.1"/>
<path class="t" d="M309.7 541.8C310.7 542.6 312.1 543.2 312.6 544.2C313.1 545.3 312.6 546.9 312.6 548.3"/>
<path class="t" d="M308.1 545.9C309.1 546.4 310 547.5 311 547.5C311.9 547.5 312.9 546.7 313.8 546.3"/>
<ellipse class="l" cx="318.2" cy="544.2" rx="2" ry="2.8" transform="rotate(20 318.2 544.2)"/>
<path class="l" d="M317.1 541.8C320.4 540.3 323.8 537.4 327 537.3C329.8 537.2 332.9 538.3 335.1 540.2C337.7 542.5 338.8 547.7 340.7 551.5"/>
<path class="l" d="M319.3 547C321.9 545.5 324.6 542.6 327 542.6C329 542.6 331.1 544.2 332.7 545.9C334.7 548 335.9 551.8 337.5 554.7"/>

<!-- 40_exh.svg -->
<!-- exhaust 44 -->
<path class="l" d="M562.7 394.8C557.1 396.4 550.9 398 546 399.7C542 401.1 539.1 403.3 535.2 404.2C530.9 405.2 525.8 404.7 521.2 405C516.8 405.3 512.5 405.7 508.2 406"/>
<path class="l" d="M508.2 406C506.2 404.7 504.4 403 502.2 402C500 401 498.2 400.6 495.2 400C490.3 398.9 481.8 397.7 475.1 397C468.4 396.3 461.8 395.9 455.1 396C448.4 396.1 441.7 396.6 435.1 397.6C428.4 398.6 421.7 400 415.1 402C408.3 404.1 401.6 406.8 395.1 410C388.3 413.4 381.1 417.3 375 422C369 426.7 363.4 432.3 359 438.1C354.8 443.7 351.5 449.8 349 456.1C346.5 462.4 345 469.4 344 476.1C343 482.7 342.8 489.4 343 496.1C343.2 502.8 344 508.7 345 516.1C346.2 525.5 346.5 538.8 350.2 548C353.6 556.3 359.4 564.7 365.1 569.6C369.6 573.5 375 574.5 380 577"/>
<path class="l" d="M508.2 406C508.5 408.7 509.5 411.3 509.2 414C508.8 416.9 506.9 419.9 505.8 422.8"/>
<path class="l" d="M562.7 394.8C564.5 395.5 566.9 395.7 568.1 397C569.3 398.3 569.7 400.5 569.8 402.4C569.9 404.3 569.1 406.3 568.7 408.3"/>
<path class="l" d="M568.7 408.3C561.1 410.8 552.1 413.4 546 415.9C541.7 417.6 539.1 420 535.2 421C530.9 422.1 526 421.7 521.2 422C516.2 422.3 510.9 422.5 505.8 422.8"/>
<path class="l" d="M505.8 422.8C503.6 423.6 501.8 424.7 499.2 425.2C495.8 425.8 491.8 424.6 487.2 425.2C480.9 426 472.2 428.6 465.1 431.1C458.2 433.6 451.6 436.4 445.1 440.1C438.2 444 431.5 448.7 425.1 454.1C418.2 459.9 410.6 467.1 405.1 474.1C400.1 480.5 396.3 487.5 393.1 494.1C390.1 500.1 385.9 509.8 386.1 512.1C386.1 512.7 386.6 512.5 386.7 513.1C387 515 384.2 522.3 384 526.6C383.8 530.4 384.9 533.9 385.3 537.6"/>
<path class="t" d="M388.1 467.2C386.3 471.7 384.2 476.2 382.6 480.7C381 485.2 379.4 489.4 378.6 494.2C377.8 499.3 377.9 504.6 378.1 510.4C378.3 517.1 379.3 524.8 379.9 532"/>
<path class="t" d="M392.6 465C390.6 469.3 388.3 473.6 386.7 478C385.1 482.4 383.7 486.6 382.9 491.5C382 497.2 382 504.1 382.1 510.4C382.2 516.7 383 523 383.5 529.3"/>
<path class="l" d="M384.4 543C387.4 546 389.7 549.2 393.4 552C397.8 555.3 405.8 558.1 409.6 561C412.1 562.8 413.2 564.6 415 566.4"/>
<path class="l" d="M385.3 537.6C386.2 536.4 386.8 534.9 388 534C389.2 533.1 391 532.8 392.5 532.2"/>
<path class="l" d="M385.3 525C387.4 526.5 389.6 528 391.6 529.5C393.5 531 395.2 532.5 397 534"/>
<ellipse class="l" cx="393.4" cy="536.3" rx="1.6" ry="2.2" transform="rotate(30 393.4 536.3)"/>
<path class="l" d="M397 534C403 536.1 410.7 539.7 415 540.3C417.2 540.6 418.3 539.5 420.3 540C423.6 540.7 428.7 543.8 432.3 546.5C436 549.2 439.1 552.9 442.1 556.3C444.9 559.5 447.7 562.6 449.7 566.1C451.7 569.5 453.6 573.3 454.1 577C454.6 580.6 454.2 584.7 453 587.9C451.9 590.9 449.8 593.6 447.5 595.6C445.1 597.6 442 599.3 438.8 599.9C435.5 600.5 430.9 599.9 427.9 599C425.5 598.3 423.9 596.9 421.9 595.8"/>
<path class="l" d="M400.6 541.2C400.6 541.5 400.5 541.8 400.7 542.2C401.3 543.6 404.8 547.2 407.2 549.8C410.1 552.9 413.8 556.4 417 559.6C420 562.6 423.5 565.2 425.8 568.3C427.9 571.1 430.1 574.2 430.7 577C431.2 579.3 430.9 581.8 430.1 583.6C429.4 585.2 427.9 586.2 426.8 587.5"/>
<path class="t" d="M402.4 538.5C406 539.7 409.7 540.4 413.2 542.1C416.9 543.9 420.4 546.9 424 549.3"/>
<path class="t" d="M432.3 555.3C435.2 558.9 438.4 562.4 441 566.1C443.5 569.6 445.8 573.4 447.5 577C449 580.3 450.2 583.9 450.8 586.8C451.3 588.9 451.2 590.6 451.4 592.5"/>
<path class="l" d="M382.2 540C384.4 542.5 386.1 545.2 388.7 547.6C391.7 550.4 395.9 552.9 399.6 555.3C403.2 557.6 407.5 560 410.5 561.8C412.6 563.1 414.1 564 415.9 565.1"/>
<path class="l" d="M398.8 532.5C403 530 408 528.2 411.4 525C414.6 522 416.6 517.8 418.6 514.2C420.4 510.9 421.1 507.1 423.1 504.3C425 501.7 427.6 498.7 430.3 498C432.8 497.3 436.3 498 438.4 499.4C440.5 500.8 441.4 503.9 442.9 506.1"/>
<path class="l" d="M442.9 506.1C441.4 509.4 440.5 512.9 438.4 516C436.1 519.5 432.2 522.8 429.4 525.9C426.9 528.7 424.1 531.5 422.2 534C420.8 535.9 420 537.6 418.9 539.4"/>
<path class="t" d="M424 504.3C425.8 505.2 427.6 505.7 429.4 507C431.8 508.7 434.2 511.8 436.6 514.2"/>
<path class="t" d="M426.1 501.6C428.1 502.3 430.1 502.6 432.1 503.8C434.6 505.4 436.9 508.6 439.3 511"/>
<ellipse class="l" cx="456" cy="492.6" rx="4" ry="1.8" transform="rotate(-5 456 492.6)"/>
<path class="l" d="M452.1 493.5C452.4 499.8 453.1 506.2 453.1 512.4C453.1 518.5 453.2 524.7 451.9 530.4C450.6 536 448.4 542.2 445.6 546.6C443.2 550.3 439.8 552.6 436.9 555.6"/>
<path class="l" d="M460 493C460.4 500.1 461.1 507.4 461.1 514.2C461.1 520.4 461.1 526.4 460 532.2C458.9 538.1 457.1 544.6 454.2 549.3C451.6 553.5 447.5 556.1 444.1 559.5"/>
<path class="t" d="M436.9 555.6 L444.1 559.5"/>
<path class="t" d="M423.2 491.7 L420 490.7 L422.3 493.1 L419.1 492.1 L421.4 494.6 L418.2 493.6 L420.5 496 L417.3 495 L419.5 497.5 L416.3 496.5 L418.6 498.9 L415.4 497.9 L417.7 500.4 L414.5 499.4 L416.8 501.8 L413.6 500.8 L415.9 503.3 L412.7 502.3 L415 504.7 L411.8 503.7 L414.1 506.2 L410.9 505.2 L413.1 507.6 L409.9 506.6 L412.2 509.1 L409 508.1 L411.3 510.6"/>
<path class="t" d="M420.5 489.9 L408.6 508.8"/>
<path class="t" d="M423.2 491.7 L411.3 510.6"/>
<path class="t" d="M424 486.3C424.3 487.2 425.2 488.3 424.9 489C424.6 489.7 423.1 489.9 422.2 490.4"/>
<path class="t" d="M409.9 510.2C409.3 510.9 408.1 511.7 408.1 512.4C408.1 513 409.1 513.6 409.6 514.2"/>
<path class="t" d="M449.1 512.9 L445.9 511.9 L448.1 514.5 L444.9 513.5 L447.1 516 L443.9 515 L446.1 517.6 L442.9 516.6 L445.1 519.1 L441.9 518.1 L444.1 520.7 L440.9 519.7 L443.1 522.2 L439.9 521.2 L442.1 523.8 L438.9 522.8 L441.1 525.3 L437.9 524.3 L440.1 526.9 L436.9 525.9 L439.1 528.4 L435.9 527.4 L438.1 530 L434.9 529 L437.1 531.5 L433.9 530.5 L436.1 533.1"/>
<path class="t" d="M446.4 511.2 L433.4 531.3"/>
<path class="t" d="M449.1 512.9 L436.1 533.1"/>
<path class="t" d="M449.2 507.9C449.5 508.8 450.3 509.9 450.1 510.6C449.9 511.2 448.8 511.5 448.1 512"/>
<path class="t" d="M434.8 532.5C434.2 533.3 433 534.1 433 534.9C433 535.5 433.7 536.1 434.1 536.7"/>
<path class="ld" d="M394.3 536.7 L463.6 570"/>
<ellipse class="l" cx="406.1" cy="574" rx="2.2" ry="3.8" transform="rotate(-15 406.1 574)"/>
<path class="l" d="M406.7 570.1 L415.9 574.9"/>
<path class="l" d="M405.7 577.8 L413.8 581.6"/>
<ellipse class="w" cx="415.5" cy="578.1" rx="3" ry="3.6" transform="rotate(-15 415.5 578.1)"/>
<ellipse class="l" cx="415.8" cy="578.3" rx="1.6" ry="2.2" transform="rotate(-15 415.8 578.3)"/>
<path class="l" d="M412.7 568.5 L417.6 565.7 L421 567.2"/>
<path class="t" d="M415.1 567.2 L412.9 572.7"/>
<path class="t" d="M417.6 566.1 L415.9 573.8"/>
<path class="l" d="M406.1 581.4C406.3 583.2 406.5 585.1 406.7 586.8C406.9 588.3 406.7 589.8 407.5 591.2C408.5 592.9 410.8 595.3 412.7 595.8C414.4 596.2 416.3 595.1 418.1 594.7"/>
<path class="l" d="M418.1 594.7C418.4 591.7 418.4 588.8 419 585.8C419.6 582.6 421 578.5 421.9 575.9C422.5 574.1 423.2 573 423.8 571.6"/>
<path class="t" d="M423.8 571.6C425.2 572.7 426.8 573.5 427.9 574.9C429 576.4 430 578.5 430.3 580.3C430.6 582.1 430.4 584.6 429.6 585.8C429 586.7 427.7 586.9 426.8 587.5"/>
<path class="t" d="M409 582.5 L409.4 591.2"/>
<path class="t" d="M411.6 583.1 L412.1 593.4"/>
<path class="t" d="M414.9 583.8 L415.1 594.5"/>
<path class="l" d="M412.7 596.6 L413.8 602.3 L422.5 604.9 L427.9 603.4 L428.6 599.5 L424.9 597.7"/>
<path class="t" d="M416.5 597.7 L417 603.2"/>
<path class="t" d="M419.8 598.6 L420.3 604.1"/>
<ellipse class="t" cx="425.5" cy="601" rx="1.6" ry="2.4"/>
<path class="t" d="M423 598.8 L423.6 604.3"/>
<path class="l" d="M380 577C383.6 578.8 387 580.6 390.9 582.5C395.3 584.6 400.5 586.8 405.3 589"/>
<!-- damper 36 / nut 35 -->
<ellipse class="l" cx="468.6" cy="575" rx="2.8" ry="7" transform="rotate(-22 468.6 575)"/>
<path class="l" d="M466.3 568.5 L475.3 566.7"/>
<path class="l" d="M471.1 581.7 L479.8 579.3"/>
<path class="l" d="M475.3 566.7C476.5 568.4 478.1 569.8 478.9 571.8C479.7 574 479.5 576.8 479.8 579.3"/>
<path class="l" d="M478.9 573.6 L487 578.1"/>
<path class="l" d="M478 577.2 L486.1 581.7"/>
<path class="l" d="M487 578.1C487.3 578.8 488.1 579.5 488 580.1C487.9 580.7 486.7 581.2 486.1 581.7"/>
<path class="t" d="M480.7 574.7 L479.9 578.1"/>
<path class="t" d="M482.5 575.6 L481.7 579"/>
<path class="t" d="M484.3 576.5 L483.5 579.9"/>
<path class="t" d="M486.1 577.4 L485.3 580.8"/>
<ellipse class="l" cx="496" cy="585.3" rx="3" ry="4" transform="rotate(-20 496 585.3)"/>
<ellipse class="t" cx="496.2" cy="585.3" rx="1.6" ry="2.3" transform="rotate(-20 496.2 585.3)"/>
<path class="l" d="M494.2 581.7 L499.9 582.9"/>
<path class="l" d="M497.4 589.2 L501.7 587.6"/>
<path class="l" d="M499.9 582.9C500.7 583.7 502.1 584.4 502.3 585.3C502.5 586 501.9 586.8 501.7 587.6"/>
<!-- hose to 31 + ring -->
<path class="l" d="M452 471.2C452.3 467.6 451.7 463.7 452.9 460.4C454.2 457 456.6 453.1 459.6 451C462.8 448.8 467.6 447.8 471.8 447.8C476.2 447.8 481.1 448.7 485.2 451C489.8 453.5 493.1 458.6 497.4 463.1C502.5 468.4 507.9 475.8 513.6 480.7C518.7 485.1 524.1 489.5 529.8 491.5C535 493.3 540.8 493.6 546 492.9C551.2 492.2 555.9 489.2 560.9 487.4"/>
<path class="l" d="M462.3 473.9C462.5 470.8 461.8 467.2 462.8 464.5C463.8 461.9 466 459.1 468.2 457.8C470.3 456.5 473.2 456 475.8 456.4C478.9 456.9 482.1 459.3 485.2 461.8C489.3 465.1 493 470.7 497.4 475.3C502.4 480.5 507.9 487.1 513.6 491.5C518.8 495.5 524 499.2 529.8 501C535.7 502.8 542.7 503.4 548.7 502.3C554.6 501.2 559.8 497.2 565.4 494.7"/>
<path class="l" d="M452 471.2C453.6 472.6 455.1 474.9 456.9 475.3C458.6 475.7 460.5 474.4 462.3 473.9"/>
<path class="l" d="M560.9 487.4C562.4 488.3 564.7 488.8 565.4 490.1C566.1 491.3 565.4 493.2 565.4 494.7"/>
<ellipse class="l" cx="456.1" cy="480.2" rx="5.6" ry="2.4"/>
<ellipse class="t" cx="456.1" cy="480.4" rx="4.2" ry="1.5"/>
<path class="l" d="M450.4 480.7C450.8 482.3 450.5 484.4 451.5 485.6C452.6 486.8 455.2 487.8 456.9 487.7C458.6 487.6 461 486.2 461.8 484.8C462.5 483.6 461.8 481.7 461.8 480.2"/>
<path class="t" d="M450.7 483.4C452.6 484.3 454.6 486.2 456.4 486.1C458.3 486 460 483.8 461.8 482.6"/>
<!-- pipe stub above (from tank) -->
<path class="l" d="M448.8 370 L449.6 390.2"/>
<path class="l" d="M455.6 370 L456.4 390.2"/>
<path class="l" d="M449.6 390.2C450.7 390.7 451.8 391.6 452.9 391.6C454 391.6 455.2 390.7 456.4 390.2"/>

<!-- 50_low.svg -->
<!-- guards 60 -->
<path class="l" d="M60.9 487.6 L114 509.9 L116 516.9 L110.4 518.8 L58.2 496.8 L54 502.1" style="stroke:#333;stroke-width:1"/>
<path class="l" d="M60.9 487.6 L58.2 496.8" style="stroke:#333;stroke-width:1"/>
<path class="l" d="M63.7 492.3 L112 513.3" style="stroke:#505050;stroke-width:.8"/>
<path class="l" d="M54 502.1C55.7 506.1 57.4 508.9 59 514.1C61.7 522.8 64.1 538.3 66.5 550.4C68.9 562.5 72.1 578.4 73.5 586.7C74.2 591 74.4 593.2 74.9 596.5" style="stroke:#333;stroke-width:1"/>
<path class="l" d="M74.9 596.5 L86.1 595.1 L90.3 603.5 L109.8 602.1 L123.8 613.2 L128 609.6" style="stroke:#333;stroke-width:1"/>
<path class="l" d="M116 516.9 L123.8 609" style="stroke:#333;stroke-width:1"/>
<path class="l" d="M73 501.5 L88.9 600.7" style="stroke:#505050;stroke-width:.8"/>
<path class="l" d="M76.3 502.9 L90.8 602.1" style="stroke:#505050;stroke-width:.8"/>
<path class="l" d="M95.9 512.7 L104.2 597.9" style="stroke:#505050;stroke-width:.8"/>
<path class="l" d="M100 516.9 L93.1 539.2 L102.8 597.9" style="stroke:#505050;stroke-width:.8"/>
<path class="l" d="M102.8 597.9 L123.8 611.8" style="stroke:#505050;stroke-width:.8"/>
<path class="l" d="M111.2 519.7 L119.6 606.2" style="stroke:#505050;stroke-width:.8"/>
<path class="l" d="M59 505.7C59.9 507.1 61.7 508.5 61.8 509.9C61.9 511.3 60.7 512.7 60.1 514.1" style="stroke:#505050;stroke-width:.8"/>
<path class="l" d="M74.9 588.1C76.1 589 78.1 589.7 78.5 590.9C78.9 592.2 77.4 594 76.9 595.6" style="stroke:#505050;stroke-width:.8"/>
<path class="l" d="M113.2 532.8 L123.8 537.3 L124.3 541.2 L113.7 537.8Z" style="stroke:#333;stroke-width:1"/>
<ellipse class="l" cx="124.3" cy="539.2" rx="1.2" ry="2" transform="rotate(10 124.3 539.2)"/>
<path class="l" d="M118.7 585.9 L129.4 590.3 L129.9 594.2 L119.3 590.9Z" style="stroke:#333;stroke-width:1"/>
<ellipse class="l" cx="129.9" cy="592.3" rx="1.2" ry="2" transform="rotate(10 129.9 592.3)"/>
<path class="l" d="M123.8 608.5 L127.7 610.2 L127.1 613.2 L123.2 611.8Z" style="stroke:#333;stroke-width:1"/>
<path class="l" d="M169 533.6 L222.1 556.5 L224.3 564.4 L219.3 568.6 L167.1 545.4 L165.7 539.2Z" style="stroke:#333;stroke-width:1"/>
<path class="l" d="M171.2 537.8 L221.5 560.2" style="stroke:#505050;stroke-width:.8"/>
<path class="l" d="M171.2 547C172 560.2 172.6 573.1 173.5 586.7C174.5 601.2 175 622.5 176.8 631.4C177.6 635.4 178.7 637 179.6 639.8" style="stroke:#333;stroke-width:1"/>
<path class="l" d="M179.6 639.8 L204.8 653.7 L207.6 659.3 L224.3 665.5 L226.5 656.5" style="stroke:#333;stroke-width:1"/>
<path class="l" d="M223.2 567.7 L226.5 656.5" style="stroke:#333;stroke-width:1"/>
<path class="l" d="M176.8 549.8 L185.2 641.2" style="stroke:#505050;stroke-width:.8"/>
<path class="l" d="M181 551 L188.6 642.6" style="stroke:#505050;stroke-width:.8"/>
<path class="l" d="M189.4 555.4 L196.4 645.3" style="stroke:#505050;stroke-width:.8"/>
<path class="l" d="M200.6 560.2 L206.2 653.7" style="stroke:#505050;stroke-width:.8"/>
<path class="l" d="M204.8 562.1 L209.8 653.7" style="stroke:#505050;stroke-width:.8"/>
<path class="l" d="M214.5 567.2 L218.7 656.5" style="stroke:#505050;stroke-width:.8"/>
<path class="l" d="M181 569.9 L190.8 574.1 L190.2 581.1" style="stroke:#505050;stroke-width:.8"/>
<path class="l" d="M183.8 600.7 L193.6 604.9 L193 611.8" style="stroke:#505050;stroke-width:.8"/>
<path class="l" d="M186.6 625.8 L196.4 630 L195.8 637" style="stroke:#505050;stroke-width:.8"/>
<path class="l" d="M202 578.3 L210.9 582.2 L210.3 588.9" style="stroke:#505050;stroke-width:.8"/>
<path class="l" d="M204.2 606.2 L213.1 610.2 L212.6 616.9" style="stroke:#505050;stroke-width:.8"/>
<path class="l" d="M206.2 634.2 L215.1 638.1 L214.5 644.8" style="stroke:#505050;stroke-width:.8"/>
<path class="l" d="M218.7 571.3C217.3 573.6 214.4 575.9 214.5 578.3C214.6 581 218.9 583.5 220.1 586.7C221.3 590 221.8 594.5 221.5 597.9C221.2 600.9 219.6 603.4 218.7 606.2" style="stroke:#505050;stroke-width:.8"/>
<path class="l" d="M161.8 554.9 L172.4 558.8 L172.4 562.7 L161.8 558.8Z" style="stroke:#333;stroke-width:1"/>
<path class="l" d="M168.5 608.8 L179.1 612.7 L179.1 616.6 L168.5 612.7Z" style="stroke:#333;stroke-width:1"/>
<path class="l" d="M221.5 580.8 L232.1 584.2 L232.1 588.1 L221.5 584.7Z" style="stroke:#333;stroke-width:1"/>
<ellipse class="l" cx="232.1" cy="586.1" rx="1.2" ry="2" transform="rotate(10 232.1 586.1)"/>
<path class="l" d="M224.9 637.5 L235.5 640.9 L235.5 644.8 L224.9 641.4Z" style="stroke:#333;stroke-width:1"/>
<ellipse class="l" cx="235.5" cy="642.8" rx="1.2" ry="2" transform="rotate(10 235.5 642.8)"/>
<ellipse class="l" cx="221.5" cy="652.3" rx="1.6" ry="2.2"/>
<!-- flanges 37-40 -->
<path class="w" d="M372.7 629.8C373.3 628.9 373.4 628.4 373.9 628C374.5 627.5 375.2 627.1 375.9 626.9C376.6 626.8 377.5 626.8 378.2 627C378.9 627.1 379.6 627.6 380.2 628.1C380.7 628.6 381.1 629.3 381.4 630C381.6 630.6 381.3 631.2 381.5 632.2C382 634.8 383.8 641.9 385.5 645.4C386.8 648 388.8 650.3 390.1 651.6C390.8 652.3 391.6 652.4 392.1 653C392.6 653.7 393 654.6 393.1 655.4C393.2 656.2 393 657.1 392.7 657.8C392.3 658.6 391.7 659.3 391 659.7C390.4 660.2 389.4 660.5 388.6 660.5C387.8 660.5 387.3 659.9 386.2 659.9C384 659.8 379.4 661.7 376 661.9C372.7 662.1 369.2 661.7 366 661.4C362.9 661.1 359.1 660.3 357.1 660.2C356 660.2 355.5 660.6 354.7 660.4C353.9 660.3 353.1 659.9 352.5 659.4C352 658.9 351.4 658.2 351.2 657.5C350.9 656.8 350.8 655.9 351 655.1C351.1 654.3 351.5 653.5 352 652.9C352.5 652.4 353 652.2 353.9 651.6C356.1 650 361.9 646.9 365 643.4C368.3 639.7 371.2 632.3 372.7 629.8Z"/>
<path class="t" d="M390.5 660.3C385.5 661.4 380 663.1 375.4 663.5C371.6 663.8 368.3 663.4 365 663C362 662.6 358.4 661.2 356.6 661.3C355.8 661.3 355.4 661.8 354.8 661.9C354.2 661.9 353.6 661.9 353 661.7C352.4 661.5 351.8 661.2 351.3 660.8C350.9 660.4 350.5 659.9 350.2 659.4C349.9 658.8 349.7 658.2 349.7 657.6C349.7 657 349.9 656.3 350 655.7"/>
<ellipse class="l" cx="377" cy="631.4" rx="1.6" ry="2.1" transform="rotate(15 377 631.4)"/>
<ellipse class="l" cx="355.5" cy="655.9" rx="1.6" ry="2.1" transform="rotate(15 355.5 655.9)"/>
<ellipse class="l" cx="388.5" cy="655.9" rx="1.6" ry="2.1" transform="rotate(15 388.5 655.9)"/>
<ellipse class="l" cx="374.5" cy="649.4" rx="5.2" ry="8" transform="rotate(28 374.5 649.4)"/>
<ellipse class="t" cx="375.4" cy="649.6" rx="4.2" ry="7" transform="rotate(28 375.4 649.6)"/>
<path class="w" d="M415.1 649C415.7 648.1 415.8 647.6 416.3 647.2C416.9 646.7 417.6 646.3 418.3 646.1C419 646 419.9 646 420.6 646.2C421.3 646.3 422 646.8 422.6 647.3C423.1 647.8 423.5 648.5 423.8 649.2C424 649.8 423.7 650.4 423.9 651.4C424.4 654 426.2 661.1 427.9 664.6C429.2 667.2 431.2 669.5 432.5 670.8C433.2 671.5 434 671.6 434.5 672.2C435 672.9 435.4 673.8 435.5 674.6C435.6 675.4 435.4 676.3 435.1 677C434.7 677.8 434.1 678.5 433.4 678.9C432.8 679.4 431.8 679.7 431 679.7C430.2 679.7 429.7 679.1 428.6 679.1C426.4 679 421.8 680.9 418.4 681.1C415.1 681.3 411.6 680.9 408.4 680.6C405.3 680.3 401.5 679.5 399.5 679.4C398.4 679.4 397.9 679.8 397.1 679.6C396.3 679.5 395.5 679.1 394.9 678.6C394.4 678.1 393.8 677.4 393.6 676.7C393.3 676 393.2 675.1 393.4 674.3C393.5 673.5 393.9 672.7 394.4 672.1C394.9 671.6 395.4 671.4 396.3 670.8C398.5 669.2 404.3 666.1 407.4 662.6C410.7 658.9 413.6 651.5 415.1 649Z"/>
<ellipse class="l" cx="419.4" cy="650.6" rx="1.6" ry="2.1" transform="rotate(15 419.4 650.6)"/>
<ellipse class="l" cx="397.9" cy="675.1" rx="1.6" ry="2.1" transform="rotate(15 397.9 675.1)"/>
<ellipse class="l" cx="430.9" cy="675.1" rx="1.6" ry="2.1" transform="rotate(15 430.9 675.1)"/>
<ellipse class="l" cx="416.9" cy="668.6" rx="5.2" ry="8" transform="rotate(28 416.9 668.6)"/>
<path class="w" d="M440.7 659.8C441.3 658.9 441.4 658.4 441.9 658C442.5 657.5 443.2 657.1 443.9 656.9C444.6 656.8 445.5 656.8 446.2 657C446.9 657.1 447.6 657.6 448.2 658.1C448.7 658.6 449.1 659.3 449.4 660C449.6 660.6 449.3 661.2 449.5 662.2C450 664.8 451.8 671.9 453.5 675.4C454.8 678 456.8 680.3 458.1 681.6C458.8 682.3 459.6 682.4 460.1 683C460.6 683.7 461 684.6 461.1 685.4C461.2 686.2 461 687.1 460.7 687.8C460.3 688.6 459.7 689.3 459 689.7C458.4 690.2 457.4 690.5 456.6 690.5C455.8 690.5 455.3 689.9 454.2 689.9C452 689.8 447.4 691.7 444 691.9C440.7 692.1 437.2 691.7 434 691.4C430.9 691.1 427.1 690.3 425.1 690.2C424 690.2 423.5 690.6 422.7 690.4C421.9 690.3 421.1 689.9 420.5 689.4C420 688.9 419.4 688.2 419.2 687.5C418.9 686.8 418.8 685.9 419 685.1C419.1 684.3 419.5 683.5 420 682.9C420.5 682.4 421 682.2 421.9 681.6C424.1 680 429.9 676.9 433 673.4C436.3 669.7 439.2 662.3 440.7 659.8Z"/>
<ellipse class="l" cx="445" cy="661.4" rx="1.6" ry="2.1" transform="rotate(15 445 661.4)"/>
<ellipse class="l" cx="423.5" cy="685.9" rx="1.6" ry="2.1" transform="rotate(15 423.5 685.9)"/>
<ellipse class="l" cx="456.5" cy="685.9" rx="1.6" ry="2.1" transform="rotate(15 456.5 685.9)"/>
<ellipse class="l" cx="442.5" cy="679.4" rx="5.2" ry="8" transform="rotate(28 442.5 679.4)"/>
<path class="l" d="M292.4 606 L328.4 618.4"/>
<path class="l" d="M288.4 620.4 L313.6 630"/>
<path class="l" d="M292.4 606C291.1 606.7 289.3 606.9 288.4 608C287.3 609.3 286.8 611.6 286.8 613.6C286.7 615.8 287.9 618.1 288.4 620.4"/>
<path class="w" d="M332.3 612.4C332.9 611.5 333 611 333.5 610.6C334.1 610.1 334.8 609.7 335.5 609.5C336.2 609.4 337.1 609.4 337.8 609.6C338.5 609.7 339.2 610.2 339.8 610.7C340.3 611.2 340.7 611.9 341 612.6C341.2 613.2 340.9 613.8 341.1 614.8C341.6 617.4 343.4 624.5 345.1 628C346.4 630.6 348.4 632.9 349.7 634.2C350.4 634.9 351.2 635 351.7 635.6C352.2 636.3 352.6 637.2 352.7 638C352.8 638.8 352.6 639.7 352.3 640.4C351.9 641.2 351.3 641.9 350.6 642.3C350 642.8 349 643.1 348.2 643.1C347.4 643.1 346.9 642.5 345.8 642.5C343.6 642.4 339 644.3 335.6 644.5C332.3 644.7 328.8 644.3 325.6 644C322.5 643.7 318.7 642.9 316.7 642.8C315.6 642.8 315.1 643.2 314.3 643C313.5 642.9 312.7 642.5 312.1 642C311.6 641.5 311 640.8 310.8 640.1C310.5 639.4 310.4 638.5 310.6 637.7C310.7 636.9 311.1 636.1 311.6 635.5C312.1 635 312.6 634.8 313.5 634.2C315.7 632.6 321.5 629.5 324.6 626C327.9 622.3 330.8 614.9 332.3 612.4Z"/>
<path class="t" d="M350.1 642.9C345.1 644 339.6 645.7 335 646.1C331.2 646.4 327.9 646 324.6 645.6C321.6 645.2 318 643.8 316.2 643.9C315.4 643.9 315 644.4 314.4 644.5C313.8 644.5 313.2 644.5 312.6 644.3C312 644.1 311.4 643.8 310.9 643.4C310.5 643 310.1 642.5 309.8 642C309.5 641.4 309.3 640.8 309.3 640.2C309.3 639.6 309.5 638.9 309.6 638.3"/>
<ellipse class="l" cx="336.6" cy="614" rx="1.6" ry="2.1" transform="rotate(15 336.6 614)"/>
<ellipse class="l" cx="315.1" cy="638.5" rx="1.6" ry="2.1" transform="rotate(15 315.1 638.5)"/>
<ellipse class="l" cx="348.1" cy="638.5" rx="1.6" ry="2.1" transform="rotate(15 348.1 638.5)"/>
<path class="l" d="M331.6 629C334.1 628.3 336.6 626.8 339 627C341.3 627.2 343.4 629 345.6 630"/>
<path class="l" d="M331.6 629C331.2 630.3 330.3 631.6 330.4 633C330.5 634.5 331.7 636.1 332.4 637.6"/>
<path class="l" d="M332.4 637.6C334.6 638.4 336.8 639.9 339 640C341.3 640.1 343.7 638.7 346 638"/>
<path class="l" d="M345.6 630C346.1 631.3 346.9 632.7 347 634C347.1 635.3 346.3 636.7 346 638"/>
<path class="t" d="M339 627.6C339.5 629.6 340.3 631.6 340.4 633.6C340.5 635.6 339.7 637.6 339.4 639.6"/>

<!-- 54_filter.svg -->
<!-- filter 19 -->
<path class="l" d="M742.9 413.2C745.1 409 751.6 404.8 756 404.1C759.9 403.5 764.2 405.5 767.7 407.8C771.7 410.5 775.2 415.5 778.1 420.3C781.3 425.6 784.5 432.3 785.4 438.5C786.3 444.5 786.3 452.3 783.8 456.7C781.6 460.5 776.8 463.9 772.9 464.5C769.2 465.1 764.7 463 761.2 460.6C757.2 457.8 753.8 452.5 750.8 447.6C747.6 442.2 744.1 435.4 742.9 429.4C741.8 424 740.7 417.4 742.9 413.2Z"/>
<path class="l" d="M756 404.1C759 402.5 761.8 400.6 765.1 399.4C768.7 398.1 772.7 396.9 776.8 396.8C781.3 396.6 786.7 397 791.1 398.9C795.8 401 800.8 404.8 804.1 409.3C807.8 414.3 810.4 421.9 811.4 428.1C812.3 433.8 812.2 440.2 810.4 445C808.7 449.4 805.2 453.5 801.5 456.2C797.9 458.9 792.6 460.2 788.5 461.4C784.9 462.5 781.6 462.8 778.1 463.5"/>
<path class="t" d="M767.1 403.1C770.8 404.1 774.7 404.2 778.1 406C781.9 408 785.9 411.1 788.5 415.1C791.6 419.8 793.7 427.1 794.2 433.3C794.7 439.6 793.5 447.8 791.6 452.8C790.2 456.4 787.8 458.5 785.9 461.4"/>
<path class="t" d="M770.8 401.5C775 402.6 779.5 402.7 783.3 404.7C787.3 406.8 791.5 409.8 794.2 413.8C797.4 418.5 799.7 425.9 800.2 432C800.7 438 799.4 445.3 797.6 450.2C796.2 453.9 793.6 456.3 791.6 459.3"/>
<path class="t" d="M752.1 418.2C755.6 418 759.3 416.5 762.5 417.7C766.3 419.2 770.3 423.9 772.9 428.1C775.6 432.5 777.5 438.7 778.1 443.7C778.6 448.2 777.4 452.4 777 456.7"/>
<ellipse class="t" cx="771.6" cy="420.3" rx="1.8" ry="2.4" transform="rotate(-20 771.6 420.3)"/>
<ellipse class="t" cx="778.1" cy="428.1" rx="1.8" ry="2.4" transform="rotate(-20 778.1 428.1)"/>
<ellipse class="t" cx="782" cy="438.5" rx="1.8" ry="2.4" transform="rotate(-20 782 438.5)"/>
<ellipse class="t" cx="782.8" cy="448.4" rx="1.8" ry="2.4" transform="rotate(-20 782.8 448.4)"/>
<ellipse class="t" cx="762.5" cy="433.3" rx="1.8" ry="2.4" transform="rotate(-20 762.5 433.3)"/>
<ellipse class="t" cx="762.5" cy="450.2" rx="1.8" ry="2.4" transform="rotate(-20 762.5 450.2)"/>
<path class="l" d="M753.4 419 L755.2 430.7"/>
<path class="l" d="M758.6 440.6 L774.2 442.7"/>
<path class="t" d="M758.6 442.4 L757.8 445.8"/>

<!-- 55_plate.svg -->
<!-- plate 29 -->
<path class="w" d="M696.4 445.4C696.1 443.7 695.7 442.3 695.4 440.2C694.9 436.8 693.3 429.9 694 427.1C694.4 425.6 694.9 424.8 696.1 424C698.2 422.7 703.6 422.8 707.3 422.3C711.1 421.8 714.3 421 718.6 421.2C724.3 421.5 732.5 423.5 738.2 425.4C743 426.9 748.1 428.4 750.8 431C752.8 433 753.3 435 754.3 438.1C755.9 443.2 756.7 452.1 757.8 459.1C758.8 466.1 760 475.1 760.6 480.1C760.9 482.8 762 484.7 761.3 486.5C760.6 488.3 758.9 489.8 756.4 490.7C751.3 492.6 736.4 491.3 729.8 490.7C725.8 490.3 723.4 489.4 720.2 488.8"/>
<path class="t" d="M738.2 425.4C739.1 425 739.9 424.3 741 424.3C742.5 424.3 744.7 425.8 746.6 426.6"/>
<ellipse class="t" cx="697.5" cy="429.6" rx="1.6" ry="2"/>
<ellipse class="t" cx="748" cy="434.7" rx="1.6" ry="2"/>
<ellipse class="t" cx="755.9" cy="485.8" rx="1.6" ry="2"/>
<circle class="l" cx="727.7" cy="457.7" r="3.1"/>
<path class="l" d="M730.4 439 L732.3 439.5 L734 440.3 L735.7 441.4 L737.3 442.7 L738.7 444.3 L740 446 L741.1 447.9 L742 450 L732.5 455.1 L731.8 453.8 L730.9 452.7 L729.8 451.9 L728.6 451.4Z" style="stroke-width:1.1"/>
<path class="l" d="M743.1 455.1 L743.3 457.4 L743.2 459.7 L742.9 462 L742.4 464.2 L741.6 466.3 L740.6 468.3 L739.5 470.2 L738.1 471.8 L731.2 462.5 L732 461.3 L732.6 459.9 L732.9 458.4 L732.8 456.8Z" style="stroke-width:1.1"/>
<path class="l" d="M734.5 474.8 L732.8 475.7 L730.9 476.3 L729.1 476.6 L727.2 476.7 L725.3 476.5 L723.4 476 L721.6 475.2 L719.9 474.2 L725.1 463.2 L726.3 463.9 L727.5 464.1 L728.8 464 L730 463.5Z" style="stroke-width:1.1"/>
<path class="l" d="M716.5 470.9 L715.2 469.1 L714.2 467.2 L713.3 465.1 L712.7 462.9 L712.3 460.7 L712.1 458.4 L712.2 456 L712.4 453.7 L722.6 456.4 L722.5 457.9 L722.7 459.5 L723.2 460.9 L724 462.1Z" style="stroke-width:1.1"/>
<path class="l" d="M713.9 448.8 L714.9 446.8 L716.1 445 L717.5 443.4 L719 441.9 L720.6 440.8 L722.4 439.8 L724.2 439.2 L726.1 438.8 L727.2 451.3 L725.9 451.7 L724.8 452.4 L723.8 453.4 L723.1 454.7Z" style="stroke-width:1.1"/>

<!-- 60_mid.svg -->
<!-- clamp 6 -->
<path class="l" d="M444.7 279.1 L459 278.1 L461.1 281.2 L461.1 286.4 L446 287.7 L444.7 283.8Z"/>
<path class="t" d="M444.7 283.3 L461.1 281.8"/>
<path class="t" d="M455.1 282.5 L455.9 287.2"/>
<path class="t" d="M456.4 278.6 L461.6 279.4 L461.6 281.8"/>
<!-- petcock 7 -->
<path class="l" d="M451.2 295.5 L451.8 328.1"/>
<path class="l" d="M454.4 295.5 L455.4 328.1"/>
<path class="l" d="M451.2 295.5 L454.4 295.5"/>
<path class="t" d="M451.5 302.1 L454.9 302.1"/>
<path class="t" d="M451.5 309.9 L454.9 309.9"/>
<path class="t" d="M451.5 318.2 L454.9 318.2"/>
<path class="l" d="M448.6 329.4C448.4 331.1 448 332.9 448.1 334.6C448.2 336.3 448.8 338.1 449.1 339.8"/>
<path class="l" d="M458 328.6C458.2 330.3 458.5 332 458.5 333.8C458.5 335.7 458.2 337.8 458 339.8"/>
<path class="t" d="M448.6 329.4C450.2 329.8 451.7 330.8 453.3 330.7C454.9 330.6 456.4 329.5 458 328.9"/>
<path class="t" d="M448.6 332C450.2 332.4 451.7 333.4 453.3 333.3C454.9 333.2 456.4 332.1 458 331.5"/>
<path class="t" d="M448.6 334.6C450.2 335 451.7 336 453.3 335.9C454.9 335.8 456.4 334.7 458 334.1"/>
<path class="t" d="M448.6 337.2C450.2 337.6 451.7 338.6 453.3 338.5C454.9 338.4 456.4 337.3 458 336.7"/>
<path class="t" d="M448.6 339.8C450.2 340.2 451.7 341.2 453.3 341.1C454.9 341 456.4 339.9 458 339.3"/>
<path class="l" d="M449.1 339.8 L448.6 352 L456.4 352.8 L457 341.1"/>
<path class="l" d="M448.6 343.7 L443.9 344.2 L442.1 347.6 L443.9 352 L448.6 351.5"/>
<path class="t" d="M445 345 L445 351.5"/>
<path class="l" d="M450.7 352.8 L450.7 359.3 L454.9 359.3 L454.9 352.8"/>
<path class="t" d="M450.7 355.4 L454.9 355.4"/>
<path class="t" d="M450.7 357.2 L454.9 357.2"/>
<!-- clip 8 -->
<ellipse class="l" cx="453.3" cy="365.8" rx="6.5" ry="2.8" transform="rotate(8 453.3 365.8)"/>
<path class="t" d="M447.3 364.5C447.7 365.8 447.6 367.5 448.6 368.4C449.9 369.5 453.1 369.9 455.1 369.7C457 369.5 458.6 368.3 460.3 367.6"/>
<path class="t" d="M456.4 367.6 L461.1 369.7 L459.6 366.6"/>
<!-- hose below 8 -->
<path class="l" d="M449.1 373.1 L449.4 391.8"/>
<path class="l" d="M455.9 373.1 L456.2 391.8"/>
<ellipse class="l" cx="452.5" cy="373.1" rx="3.4" ry="1.4"/>
<!-- clamp 30 -->
<ellipse class="l" cx="585.8" cy="393" rx="10.5" ry="8" transform="rotate(10 585.8 393)"/>
<ellipse class="t" cx="586.6" cy="392" rx="8.6" ry="6.2" transform="rotate(10 586.6 392)"/>
<path class="t" d="M575.7 394.6C576.2 396.5 576 398.9 577.3 400.2C578.7 401.7 581.8 402.6 584.2 402.6C587 402.6 591.1 401.3 593.1 399.4C594.9 397.7 595 394.6 596 392.2"/>
<path class="l" d="M574.6 377.7 L588.2 376.1 L595.5 380.9 L594.7 385.7 L581 384.1 L576.2 381.7Z"/>
<path class="l" d="M571.4 375.3 L576.2 379.3"/>
<path class="t" d="M572.2 376.9 L575.7 380.6"/>
<path class="t" d="M580.2 377.4 L581 384.9"/>
<path class="t" d="M584.2 377.4 L585 384.9"/>
<path class="t" d="M588.2 377.4 L589 384.9"/>
<path class="t" d="M591.5 377.4 L592.3 384.9"/>
<path class="t" d="M588.2 385.7 L589 394.6"/>
<path class="t" d="M591.5 385.7 L592.3 393.8"/>
<!-- screws 34 + plate 33 -->
<ellipse class="l" cx="587" cy="412.7" rx="3.2" ry="1.7"/>
<path class="l" d="M583.7 413.1C584.8 413.8 585.9 415.3 587 415.3C588.1 415.3 589.1 413.8 590.2 413.1"/>
<path class="l" d="M586 415.3 L586 422.1"/>
<path class="l" d="M587.9 415.3 L587.9 422.1"/>
<path class="l" d="M586 422.1 L587.9 422.1"/>
<path class="t" d="M586 416.3 L587.9 416"/>
<path class="t" d="M586 417.6 L587.9 417.2"/>
<path class="t" d="M586 418.9 L587.9 418.5"/>
<path class="t" d="M586 420.1 L587.9 419.8"/>
<path class="t" d="M586 421.4 L587.9 421.1"/>
<ellipse class="l" cx="574.1" cy="422.7" rx="3.2" ry="1.7"/>
<path class="l" d="M570.9 423C572 423.8 573 425.3 574.1 425.3C575.2 425.3 576.2 423.8 577.3 423"/>
<path class="l" d="M573.1 425.3 L573.1 432"/>
<path class="l" d="M575.1 425.3 L575.1 432"/>
<path class="l" d="M573.1 432 L575.1 432"/>
<path class="t" d="M573.1 426.3 L575.1 425.9"/>
<path class="t" d="M573.1 427.5 L575.1 427.2"/>
<path class="t" d="M573.1 428.8 L575.1 428.5"/>
<path class="t" d="M573.1 430.1 L575.1 429.8"/>
<path class="t" d="M573.1 431.4 L575.1 431.1"/>
<path class="l" d="M579.4 425.1 L591.5 429.1 L590.8 432.4 L576.7 442.8 L571.5 443.6 L566.5 439.1 L569.3 435.6"/>
<path class="t" d="M569.3 435.6 L564.1 433.2 L565.4 431.6 L570.6 434"/>
<ellipse class="t" cx="587.9" cy="430.4" rx="1.8" ry="1.2"/>
<ellipse class="t" cx="573.4" cy="441.2" rx="1.8" ry="1.2"/>
<path class="t" d="M566.5 439.1 L567.3 440.7 L572.2 445.2 L577 444.4 L590.8 434 L590.8 432.4"/>
<!-- valve 32 -->
<path class="l" d="M580.5 458.6C580.9 457.1 582.6 455.6 583.8 454.3C585 452.9 586.3 451.7 587.7 450.5C589.1 449.3 590.8 448.2 592.4 447.2C594 446.2 595.5 445 597.2 444.3C598.8 443.7 600.5 443.4 602 443.2C603.3 443.1 604.7 442.9 605.8 443.3C606.9 443.7 607.8 444.5 608.6 445.3C609.3 446.1 610 447.1 610.3 448.1C610.6 449.2 610.9 450.6 610.5 451.9C609.9 453.6 607.4 455.6 605.8 457.2C604.3 458.8 602.6 460.2 601 461.5C599.4 462.7 597.8 463.8 596.2 464.8C594.7 465.7 593.1 466.9 591.5 467.2C590.1 467.5 588.5 467.2 587.2 467C586 466.8 584.8 466.6 583.8 466C582.8 465.3 581.8 464.1 581.2 462.9C580.6 461.7 580.2 460 580.5 458.6Z"/>
<path class="t" d="M582.4 459.1C584.5 457 586.3 454.7 588.6 452.7C591.1 450.6 594.5 448 597.2 446.8C599.2 445.9 601 445.9 602.9 445.4"/>
<path class="t" d="M596.2 458.6 L602 453.5"/>
<path class="t" d="M588.6 458.6 L584 459.2"/>
<path class="l" d="M578.6 461.7C579.1 463.5 578.9 465.8 580 467.2C581.2 468.6 583.8 469.3 585.7 469.9C587.6 470.5 589.3 471.3 591.5 471C594.6 470.5 598.6 467.8 602 465.5C605.9 462.9 612.4 458.5 613.4 455.9C613.9 454.7 613.5 453.6 613 452.7C612.5 451.8 611.5 451.2 610.7 450.5"/>
<path class="l" d="M581.2 468.3C583.4 470.2 585.6 472.3 587.7 473.9C589.6 475.4 591.4 477.6 593.4 477.7C595.5 477.8 597.6 475.9 600 473.9C603.9 470.7 612.2 462 613.4 458.8C613.9 457.6 613.4 456.9 613.4 455.9"/>
<path class="l" d="M570.5 462.4 L573.3 459.6 L577.6 461 L578.8 466 L575.3 467.4 L570.7 464.5Z"/>
<path class="t" d="M574.3 460.3 L575.3 466.7"/>
<path class="l" d="M579.5 474.3C580.6 473.7 581.8 472.4 582.9 472.4C584.1 472.4 585.3 473.9 586.5 474.6"/>
<path class="l" d="M579.5 474.3C579.7 475.3 579.5 476.4 580 477.2C580.6 478 581.9 479 582.9 479.1C583.9 479.2 585.3 478.5 585.9 477.7C586.5 477 586.3 475.6 586.5 474.6"/>
<ellipse class="t" cx="582.9" cy="475.8" rx="2.4" ry="2.6"/>
<path class="t" d="M605.8 443.3C606.4 443 607 442.3 607.7 442.4C608.6 442.6 609.9 444.2 610.5 445.3C611.1 446.4 611.2 447.8 611.5 449.1"/>
<!-- ring 31 -->
<ellipse class="l" cx="571.8" cy="484.7" rx="5.6" ry="4.2" transform="rotate(20 571.8 484.7)"/>
<ellipse class="t" cx="571.5" cy="484.2" rx="4.2" ry="3" transform="rotate(20 571.5 484.2)"/>
<path class="l" d="M566.2 485.5C566.6 486.9 566.4 488.7 567.3 489.8C568.3 491 570.6 492 572.2 491.9C573.9 491.8 576.4 490.4 577.3 489.2C578 488.2 577.7 486.7 577.9 485.5"/>
<path class="t" d="M566.7 487.6C568.5 488.3 570.4 489.9 572.2 489.8C574 489.7 575.8 488 577.6 487.1"/>
<!-- ring 27 + connectors -->
<ellipse class="l" cx="621.2" cy="501.6" rx="6" ry="6.4"/>
<path class="l" d="M623.6 495.6C625.2 496.2 627.2 496.4 628.4 497.5C629.6 498.6 630.9 500.8 630.9 502.4C630.9 504 629.7 506.2 628.4 507.2C627.2 508.1 625.2 507.9 623.6 508.2"/>
<path class="t" d="M625.2 496.7 L625.5 507.2"/>
<path class="t" d="M626.2 497.4 L626.4 506.5"/>
<path class="t" d="M627.2 498 L627.2 505.9"/>
<path class="t" d="M628.1 498.7 L628 505.3"/>
<path class="t" d="M629.1 499.3 L628.8 504.6"/>
<path class="t" d="M618 497.5C617.6 499.1 616.6 500.9 616.9 502.4C617.2 503.9 618.7 505.1 619.6 506.4"/>
<ellipse class="l" cx="634.9" cy="508.5" rx="3.4" ry="5" transform="rotate(-25 634.9 508.5)"/>
<path class="l" d="M634.1 503.6 L642.9 508"/>
<path class="l" d="M636.5 513.6 L643.7 516.8"/>
<path class="l" d="M642.9 508C643.7 509.3 645.1 510.6 645.3 512C645.5 513.5 644.2 515.2 643.7 516.8"/>
<ellipse class="t" cx="638.4" cy="510.1" rx="3" ry="4.6" transform="rotate(-25 638.4 510.1)"/>
<ellipse class="l" cx="647.4" cy="513.6" rx="3.4" ry="5.4" transform="rotate(-25 647.4 513.6)"/>
<path class="l" d="M647.4 508.5 L653.4 511.2"/>
<path class="l" d="M648.1 519.2 L652.6 520.1"/>
<path class="l" d="M653.4 511.2C653.9 512.5 655.1 513.8 655 515.2C654.9 516.8 653.4 518.5 652.6 520.1"/>
<path class="t" d="M649.3 509.6 L649.3 519.2"/>
<path class="t" d="M650.6 510.2 L650.6 519.1"/>
<path class="t" d="M651.9 510.9 L651.9 518.9"/>
<path class="t" d="M653.2 511.5 L653.2 518.8"/>
<!-- hose 28 + bracket line + ring -->
<ellipse class="l" cx="627.6" cy="429.1" rx="4.2" ry="2.8" transform="rotate(-35 627.6 429.1)"/>
<path class="l" d="M623.6 426.7C627.9 422.2 633 418 636.5 413.1C639.8 408.4 642.6 402.5 644.2 397.8C645.4 394.2 645.5 391.1 646.1 387.7"/>
<path class="l" d="M631.7 431.6C636.5 427 642.3 422.8 646.1 417.9C649.5 413.6 652.2 408.5 653.8 404.2C655.1 400.7 655.1 397.5 655.8 394.1"/>
<ellipse class="l" cx="620.4" cy="436.9" rx="5.6" ry="4" transform="rotate(-30 620.4 436.9)"/>
<ellipse class="t" cx="619.8" cy="437.5" rx="4" ry="2.6" transform="rotate(-30 619.8 437.5)"/>
<path class="t" d="M614.8 435.6C615.1 437.2 614.7 439.3 615.6 440.4C616.6 441.6 619.5 442.6 621.2 442.3C623 441.9 624.4 439.4 626 438"/>
<path class="ld" d="M650.2 390.6 L650.2 376.9 L669.4 390.6 L669.4 422.7 L660.6 430 L596.3 486.3 L615.6 496.7"/>
<!-- boot 26 -->
<path class="l" d="M655.2 451 L658 447.3 L675.1 443.7 L687 445.9 L711.5 456.3 L715.1 464 L718.6 482.9 L723 506.8 L724.2 513 L670.2 513 L673 508.9 L668.1 502.6 L661 480.1 L656.8 459.1Z" style="fill:#fff;stroke:none"/>
<ellipse class="w" cx="628.8" cy="575.4" rx="11.5" ry="15" transform="rotate(-38 628.8 575.4)"/>
<ellipse class="l" cx="628.8" cy="575.4" rx="8.8" ry="12" transform="rotate(-38 628.8 575.4)"/>
<ellipse class="t" cx="629.3" cy="575.9" rx="7.6" ry="10.6" transform="rotate(-38 629.3 575.9)"/>
<path class="l" d="M617.5 566.3C623 559.8 628.8 551.5 634 546.9C637.6 543.7 641 543.5 644.5 540C649.9 534.8 656.2 523.3 660.9 516.3C664.6 510.8 667.5 506.2 670.4 501.3C673.1 496.7 675.9 492.3 677.9 487.7C679.8 483.3 681.8 478.3 682 474.1C682.1 470.6 680.6 467.7 679.9 464.5"/>
<path class="t" d="M685.4 445.4C687.4 448.1 690.1 450.5 691.5 453.6C692.9 456.8 693.7 460.8 693.6 464.5C693.5 468.5 692.1 472.8 690.8 476.8C689.4 480.9 687.5 484.8 685.4 489C683 493.8 680.1 499 677.2 504C674.2 509 671.1 514.1 667.7 519C664.1 524.1 660 529 656.1 534"/>
<path class="l" d="M640.8 586.3C649.8 582.8 658.7 580.6 667.7 575.9C678 570.5 690.4 562.9 698.8 554.7C706.3 547.4 712.5 538.6 716.4 530.1C719.9 522.6 720.7 513.9 722.1 506.8C723.3 500.9 725 496 724.7 490.4C724.4 484.4 722.2 477.7 720 471.8C717.8 466.1 714.5 460.9 711.7 455.5"/>
<path class="l" d="M655.7 450.2C656.3 449.4 656.7 448.5 657.5 447.9C658.4 447.2 659.4 446.9 660.9 446.5C663.9 445.7 670.2 445 674.5 444.8C678.3 444.6 681.8 444.6 685.4 445.2C689.1 445.8 692.5 446.9 696.3 448.2C700.6 449.6 706.8 451.6 709.9 453.6C711.8 454.9 712.9 455.9 714 457.7C715.3 459.8 715.8 463.2 716.7 465.9"/>
<path class="t" d="M658.8 451.2C664 450 669.9 448 674.5 447.6C678 447.3 680.7 447.5 684 447.9C687.5 448.4 691.2 449.4 694.9 450.6C698.9 451.9 704.3 453.7 707.2 455.7C709.2 457.1 710.5 458.6 711.6 460.4C712.8 462.4 713.2 464.9 714 467.2"/>
<path class="l" d="M655.7 450.2C655.5 451.8 655.1 453.3 655.1 455C655.1 457.1 655.5 459.2 655.7 461.8C656 465.3 656.2 470 656.8 474.1C657.4 478.2 658.2 482.3 659.5 486.3C660.9 490.5 663.1 495.4 665 498.6C666.3 500.9 667.7 502.2 669 504"/>
<path class="t" d="M669 504C669.7 503.8 670.5 503.9 671.1 503.4C671.8 502.8 672 501.5 672.5 500.6"/>
<ellipse class="t" cx="658.8" cy="453.6" rx="1.2" ry="1.6"/>
<ellipse class="t" cx="708.6" cy="457.7" rx="1.2" ry="1.6"/>
<ellipse class="t" cx="667.7" cy="502" rx="1.2" ry="1.6"/>
<path class="t" d="M658.4 470.7C658.9 474.1 659.1 477.6 659.8 480.9C660.5 484.1 661.4 487.5 662.5 490.4C663.5 492.9 664.8 494.9 666 497.2"/>
<path class="t" d="M662.2 471.3C663 474.9 663.7 478.6 664.7 482.2C665.7 485.7 667.2 489.4 668.4 492.5C669.4 495 670.5 497 671.5 499.3"/>
<path class="t" d="M666.3 474.1C667.3 477.7 668 481.5 669.3 485C670.5 488.3 672.3 491.3 673.8 494.5"/>
<path class="t" d="M714 467.2C714.5 469.9 714.9 472.6 715.4 475.4C715.9 478.5 716.5 481.8 717 485"/>
<path class="l" d="M631.6 466.6C632.3 465.7 632.4 464.5 633.6 463.8C636 462.3 642.6 462.3 647.2 461.8C651.7 461.4 656.4 460.9 660.9 461.1C665.5 461.3 670.9 462.3 674.5 463.2C677 463.8 678.6 464.6 680.6 465.3"/>
<path class="t" d="M635 466.2C639.1 465.5 643 464.5 647.2 464C651.6 463.5 656.1 463.1 660.9 463.3C666.1 463.5 671.8 464.6 677.2 465.3"/>
<path class="l" d="M631.6 466.6C631.7 469.1 631.8 471.4 632 474.1C632.2 477.4 632.6 481.5 632.9 485C633.2 488.3 633.4 491.3 633.6 494.5"/>
<ellipse class="t" cx="634.7" cy="469.3" rx="1" ry="1.4"/>
<path class="l" d="M680.2 467.5C677.4 467.2 674.8 466.7 671.8 466.6C668.4 466.4 664.4 466.2 660.9 466.7C657.6 467.2 654.1 467.8 651.3 469.3C648.6 470.7 646.2 472.9 644.5 475.4C642.7 478.1 641.5 481.8 641.1 485C640.7 488.1 641.2 491.8 641.8 494.5C642.3 496.6 643.1 498.1 643.8 499.9" style="stroke-width:1.5"/>
<path class="t" d="M655.4 471.6C659 471.1 662.9 470 666.3 470.2C669.2 470.4 672.1 471.1 674.5 472.2C676.7 473.2 678.3 474.7 680.2 476"/>
<ellipse class="l" cx="663.9" cy="524.7" rx="4.6" ry="6.2" transform="rotate(-20 663.9 524.7)"/>
<path class="t" d="M669.7 520.1C671.5 521.5 674.6 522.4 675.2 524.2C675.8 526 674.8 529.7 673.4 531C672.1 532.2 669.6 531.9 667.7 532.4"/>
<path class="t" d="M660.9 527.2C661.8 527.7 662.8 528.8 663.6 528.6C664.5 528.3 664.9 526.3 665.6 525.1"/>
<path class="ld" d="M651.3 523.1 L659.5 527.2"/>
<path class="t" d="M700.1 469.2C702.7 471.4 705.5 473.1 707.8 475.7C710.3 478.6 712.7 482.6 714.3 486C715.8 489 716.4 492.1 717.4 495.1" style="stroke:#8a8a8a;stroke-width:.65"/>
<path class="t" d="M700.8 471.5C703.4 473.7 706.3 475.4 708.6 478C711.1 480.9 713.5 485 715.1 488.4C716.5 491.4 717.2 494.4 718.2 497.4" style="stroke:#8a8a8a;stroke-width:.65"/>
<path class="t" d="M696.2 486C699.2 487.7 702.5 489.2 705.3 491.2C708.1 493.1 710.7 495.3 713 497.7C715.3 500.1 717 502.9 719 505.5" style="stroke:#8a8a8a;stroke-width:.65"/>
<path class="t" d="M697 488.4C700 490.1 703.2 491.6 706 493.6C708.8 495.5 711.5 497.6 713.8 500C716.1 502.4 717.8 505.2 719.8 507.8" style="stroke:#8a8a8a;stroke-width:.65"/>
<path class="t" d="M692.3 508.1C695.3 508.5 698.4 509 701.4 509.4C704.4 509.8 707.4 509.8 710.4 510.6C713.5 511.4 716.5 513.2 719.5 514.5" style="stroke:#8a8a8a;stroke-width:.65"/>
<path class="t" d="M693.1 510.4C696.1 510.8 699.1 511.3 702.1 511.7C705.1 512.1 708.2 512.2 711.2 513C714.3 513.9 717.3 515.6 720.3 516.9" style="stroke:#8a8a8a;stroke-width:.65"/>
<path class="t" d="M689.7 523.6C692.7 523.6 695.8 523.8 698.8 523.6C701.8 523.4 704.8 522.5 707.8 522.3C710.8 522.1 713.9 522.3 716.9 522.3" style="stroke:#8a8a8a;stroke-width:.65"/>
<path class="t" d="M690.5 525.9C693.5 525.9 696.6 526.1 699.6 525.9C702.6 525.7 705.6 524.8 708.6 524.6C711.6 524.4 714.7 524.6 717.7 524.6" style="stroke:#8a8a8a;stroke-width:.65"/>
<path class="t" d="M688.4 537.8C691.4 537.4 694.5 537.3 697.5 536.5C700.6 535.6 703.7 534 706.5 532.7C709.1 531.5 711.4 530.1 713.8 528.8" style="stroke:#8a8a8a;stroke-width:.65"/>
<path class="t" d="M689.2 540.2C692.2 539.8 695.3 539.7 698.3 538.9C701.4 538 704.5 536.4 707.3 535C709.9 533.8 712.2 532.4 714.6 531.1" style="stroke:#8a8a8a;stroke-width:.65"/>
<path class="t" d="M689.7 554.7C692.3 553 694.9 551.2 697.5 549.5C700.1 547.8 702.9 546.3 705.3 544.3C707.6 542.4 709.6 540 711.7 537.8" style="stroke:#8a8a8a;stroke-width:.65"/>
<path class="t" d="M690.5 557C693.1 555.3 695.7 553.5 698.3 551.8C700.9 550.1 703.6 548.5 706 546.6C708.4 544.7 710.3 542.3 712.5 540.2" style="stroke:#8a8a8a;stroke-width:.65"/>
<path class="t" d="M700.1 469.2C698.8 474.8 697.4 480 696.2 486C694.8 492.8 693.5 501.4 692.3 508.1C691.3 513.7 690.4 518.5 689.7 523.6C689.1 528.4 688.4 532.9 688.4 537.8C688.4 543.2 689.3 549.1 689.7 554.7" style="stroke:#8a8a8a;stroke-width:.65"/>
<path class="t" d="M702.1 469.7C700.8 475.3 699.5 480.6 698.3 486.6C696.9 493.4 695.6 501.9 694.4 508.6C693.4 514.2 692.5 519 691.8 524.1C691.2 529 690.5 533.4 690.5 538.4C690.5 543.8 691.4 549.6 691.8 555.2" style="stroke:#8a8a8a;stroke-width:.65"/>
<path class="t" d="M707.8 475.7C707 480.9 706.3 485.8 705.3 491.2C704.2 497 702.5 503.7 701.4 509.4C700.4 514.4 699.5 519 698.8 523.6C698.2 528 697.7 532.2 697.5 536.5C697.3 540.8 697.5 545.2 697.5 549.5" style="stroke:#8a8a8a;stroke-width:.65"/>
<path class="t" d="M709.9 476.2C709 481.4 708.3 486.3 707.3 491.7C706.2 497.5 704.5 504.2 703.4 509.9C702.4 514.9 701.4 519.5 700.8 524.1C700.2 528.5 699.8 532.8 699.6 537.1C699.4 541.4 699.6 545.7 699.6 550" style="stroke:#8a8a8a;stroke-width:.65"/>
<path class="t" d="M714.3 486C713.9 489.9 713.6 493.7 713 497.7C712.3 501.9 711.3 506.4 710.4 510.6C709.6 514.6 708.5 518.5 707.8 522.3C707.2 525.9 706.9 529.1 706.5 532.7C706.1 536.5 705.7 540.4 705.3 544.3" style="stroke:#8a8a8a;stroke-width:.65"/>
<path class="t" d="M716.4 486.6C716 490.5 715.7 494.2 715.1 498.2C714.4 502.4 713.4 507 712.5 511.2C711.7 515.2 710.6 519 709.9 522.8C709.3 526.3 709 529.6 708.6 533.2C708.2 537 707.7 540.9 707.3 544.8" style="stroke:#8a8a8a;stroke-width:.65"/>
<path class="t" d="M717.4 495.1C717.9 498.6 718.7 502.2 719 505.5C719.3 508.6 719.9 511.6 719.5 514.5C719.1 517.2 717.9 519.8 716.9 522.3C716 524.6 714.6 526.4 713.8 528.8C712.9 531.5 712.4 534.8 711.7 537.8" style="stroke:#8a8a8a;stroke-width:.65"/>
<path class="t" d="M719.5 495.6C720 499.1 720.8 502.6 721.1 506C721.4 509.1 722 512.2 721.6 515.1C721.2 517.8 720 520.4 719 522.8C718.1 525.1 716.7 526.9 715.9 529.3C714.9 532 714.5 535.4 713.8 538.4" style="stroke:#8a8a8a;stroke-width:.65"/>

<!-- 70_right.svg -->
<!-- muffler 9 -->
<path class="l" d="M739.7 232.7 L817.3 127.3"/>
<path class="l" d="M817.3 127.3C819.2 125.9 820.8 124 823 123.2C825.4 122.3 828.2 122.3 831.1 122.5C834.6 122.8 839.5 123.7 842.7 125.5C845.6 127.1 847.9 129.6 849.7 132.4C851.7 135.4 852.4 139.5 853.8 143.1"/>
<path class="l" d="M853.8 143.1 L776.7 258.8"/>
<path class="l" d="M739.7 232.7C739.9 235.2 739.5 237.6 740.4 240.1C741.6 243.4 744.5 247.6 747.8 250.5C751.4 253.8 756.8 256.9 761.7 258.4C766.4 259.8 771.7 259 776.7 259.3"/>
<path class="t" d="M739.7 232.7C742.4 232.1 744.9 230.7 747.8 230.8C751.3 231 755.9 232.6 759.4 234.8C763.2 237.1 767 240.8 769.8 244.7C772.8 248.8 774.4 254.1 776.7 258.8"/>
<path class="l" d="M839.2 123.6C840.4 122.4 841.2 120.6 842.7 119.9C844.3 119.2 846.8 119.1 848.7 119.7C850.7 120.4 852.9 122.3 854.3 124.3C855.8 126.5 857.1 129.8 857.1 132.4C857.1 134.7 855.9 137.5 854.8 138.9C854 139.9 852.9 140.2 852 140.8"/>
<path class="t" d="M845 120.4C846.6 123 848.4 125.4 849.7 128.2C851.1 131.3 851.8 134.9 852.9 138.2"/>
<path class="w" d="M772.1 164.8C772 162.8 773.1 160.7 774.4 159C776 157.1 779.3 154.1 781.4 154.4C783.5 154.7 785.1 158.4 787.1 160.7C789.3 163.3 791.3 167.6 794.1 169C796.5 170.2 800.3 168.7 802.2 169.5C803.6 170.1 804.9 170.9 805.2 172.2C805.6 174.2 803.4 178.7 801.5 181C799.7 183.3 796.3 185.8 794.1 186.1C792.4 186.3 791.2 185.5 789.5 184.5C786.9 182.9 783.2 178.7 780.7 176.4C778.8 174.6 777 173.6 775.6 171.8C774.1 169.8 772.2 167 772.1 164.8Z"/>
<ellipse class="l" cx="781.4" cy="166" rx="2.2" ry="3.8" transform="rotate(25 781.4 166)"/>
<path class="t" d="M793.6 176.4C794.9 177.6 796.4 180.1 797.6 179.9C798.9 179.7 799.9 176 801 174.1"/>
<path class="t" d="M789.5 181 L796.4 182.2"/>
<path class="t" d="M749.6 244.7C751.3 243.7 752.9 241.5 754.7 241.7C757.1 241.9 759.8 246 762.4 248.2"/>
<path class="l" d="M749.6 244.7C745.9 253 742.2 261.6 738.6 269.7C735.1 277.4 731.9 285.3 728.3 292.1C725.1 298.1 722.9 303.3 718.1 308.5C712.1 315.1 702.2 320.9 693.6 326.9C684.5 333.2 674.5 339.2 665 345.3"/>
<path class="l" d="M762.1 250C757.2 260 752 270.4 747.5 279.9C743.5 288.4 740.7 297.1 736.5 304.4C732.8 310.8 729.7 316.3 724.2 321.6C717.5 328.1 706.4 333.4 697.7 339.2C689.2 344.8 680.8 350.3 672.3 355.9"/>
<path class="l" d="M665 345.3C667 346.4 669.9 346.9 671.1 348.6C672.4 350.4 671.9 353.5 672.3 355.9"/>
<path class="t" d="M660.9 346.9C663.1 348.3 666 349.1 667.4 351C668.8 352.9 668.5 355.9 669.1 358.4"/>
<path class="l" d="M662.9 346.1 L636.4 359.6"/>
<path class="l" d="M669.9 358.4 L641.3 373.9"/>
<ellipse class="l" cx="638.4" cy="366.5" rx="3.6" ry="7.6" transform="rotate(-28 638.4 366.5)"/>
<!-- bolt 10 -->
<ellipse class="l" cx="736.9" cy="154.4" rx="2.2" ry="3.2"/>
<path class="t" d="M734.5 151.5 L741 152.3 L741 158.1 L734.5 157.2"/>
<path class="l" d="M741 152.7 L754.9 156"/>
<path class="l" d="M741 157.6 L754.9 160.5"/>
<path class="l" d="M754.9 156C755.4 156.8 756.5 157.7 756.5 158.5C756.5 159.2 755.4 159.8 754.9 160.5"/>
<path class="t" d="M743.9 153.6 L743.9 158.1"/>
<path class="t" d="M746.7 154.2 L746.7 158.7"/>
<path class="t" d="M749.6 154.9 L749.6 159.4"/>
<path class="t" d="M752.5 155.5 L752.5 160"/>
<!-- cover 14 -->
<path class="l" d="M856.1 271.1 L869.1 262 L870.1 257.4 L899.1 251 L901.1 253 L908.1 251 L952.2 255 L956.2 260 L962.2 265.1 L962.2 268.7 L928.1 275.1 L896.1 279.5 L858.1 273.5Z"/>
<path class="t" d="M869.1 262 L886.1 255 L900.1 252.2"/>
<path class="t" d="M870.1 265.1 L886.5 256.2"/>
<path class="t" d="M891.1 258 L924.1 261"/>
<path class="t" d="M936.1 260 L950.6 257.8"/>
<path class="t" d="M860.1 269.5 L872.1 268.7 L906.1 273.5"/>
<path class="t" d="M916.1 270.3 L926.5 266.7"/>
<path class="t" d="M932.1 270.3 L960.2 266.3"/>
<path class="t" d="M876.1 270.1 L879.1 268.7 L885.1 269.5 L883.1 271.5"/>
<!-- airbox 17 -->
<path class="l" d="M861.1 305.1 L872.1 299.1 L896.1 297.5 L952.2 302.7 L954.2 306.3"/>
<path class="l" d="M861.1 305.1 L862.1 308.3 L896.1 311.5 L928.1 309.1 L932.1 307.5"/>
<path class="t" d="M872.1 299.1 L872.5 304.7"/>
<path class="t" d="M896.1 297.5 L896.5 311.1"/>
<path class="t" d="M872.5 304.7 L896.5 306.1 L928.1 304.7"/>
<path class="t" d="M917.1 304.7 L930.1 304.3 L931.1 306.7 L918.1 307.5Z"/>
<path class="l" d="M928.1 309.1 L932.1 315.1 L933.1 319.1"/>
<path class="l" d="M932.1 307.5 L954.2 303.1 L977.2 304.3 L980.2 309.1 L980.2 322.3 L976.2 325.5 L970.2 327.1"/>
<path class="t" d="M954.2 306.3 L952.2 309.1 L938.1 313.1"/>
<path class="l" d="M861.1 308.4 L853.1 313.2 L848 309.2 L820 318 L826 327.2 L827 348.1 L825 374.1 L835 381.3 L837 378.1"/>
<path class="t" d="M826 327.2 L842.4 320 L858.1 318.4"/>
<path class="t" d="M830.4 324 L832 378.1"/>
<path class="t" d="M843.2 320 L843 378.1"/>
<path class="t" d="M827 370.1 L836 376.1"/>
<path class="l" d="M858.5 319C861.9 316.1 870.4 319.3 876.1 320C881.7 320.7 886.9 321.4 892.5 323.2C898.9 325.3 907.3 328.6 912.1 332.4C915.8 335.3 918.2 338 920.1 342.5C922.9 349.2 923.3 360.8 923.7 370.1C924.1 379.4 926.2 394.2 922.5 398.1C920.3 400.5 916.5 399.5 912.1 399.3C904.3 398.9 888.7 396 880.1 392.5C873.6 389.9 867.6 387 864.1 382.5C860.8 378.2 860.5 372.6 859.3 366.5C857.8 358.9 856.5 348.4 856.5 340.1C856.5 332.7 854.8 322.2 858.5 319Z"/>
<path class="t" d="M861.1 322C864 319.5 871.1 322.1 876.1 322.8C881.1 323.5 886 324.3 891.1 326C896.9 328 904.6 330.9 909.1 334.4C912.7 337.2 915.2 339.7 917.1 344.1C919.8 350.4 920.1 361.6 920.5 370.1C920.9 378.3 922.7 391.1 919.7 394.5C918 396.4 915.5 395.8 912.1 395.7C905.2 395.5 889.3 392.6 881.1 389.3C875.1 386.9 869.7 384.3 866.5 380.1C863.5 376.2 863.2 370.9 862.1 365.3C860.7 358.3 859.4 348.7 859.3 341.1C859.2 334.4 857.8 324.8 861.1 322Z"/>
<ellipse class="l" cx="891.1" cy="359.1" rx="25" ry="32.5" transform="rotate(-12 891.1 359.1)"/>
<circle class="t" cx="862.5" cy="326.4" r="1.8"/>
<circle class="t" cx="916.1" cy="338" r="1.8"/>
<circle class="t" cx="866.5" cy="379.1" r="1.8"/>
<circle class="t" cx="918.1" cy="394.1" r="1.8"/>
<path class="l" d="M894.1 348.1 L909.7 347.1 L904.1 362.1 L893.7 359.1Z"/>
<circle class="t" cx="898.5" cy="355.1" r="2"/>
<circle class="t" cx="898.5" cy="355.1" r="0.8"/>
<path class="t" d="M870.1 368.1 L893.7 359.1"/>
<path class="t" d="M893.7 359.1 L900.1 366.5 L894.1 384.1"/>
<path class="t" d="M904.1 362.1 L900.1 366.5"/>
<path class="t" d="M896.1 386.1C898.8 385.1 901.4 383.4 904.1 383.1C906.7 382.8 909.4 383.8 912.1 384.1"/>
<path class="t" d="M883.1 320 L885.1 323 L891.1 323.6 L892.5 321"/>
<path class="l" d="M933.1 320C935.4 323.3 937.7 326.5 940.1 330C942.8 333.9 947.5 338.2 948.5 342.5C949.4 346.3 948 350.9 947.1 354.1C946.4 356.6 945.1 358.4 944.1 360.5"/>
<path class="t" d="M936.1 324C938.4 327 940.8 329.7 943.1 333C945.7 336.7 949.7 340.9 950.6 345.1C951.4 349 949.6 353.1 949.1 357.1"/>
<path class="t" d="M938.1 323 L948.1 322 L954.2 330 L955.2 350.1 L952.2 360.1"/>
<path class="l" d="M980.2 322C978.9 323.5 977.3 324.4 976.2 326.4C974.4 329.6 973.6 335 972.2 340.1C970.4 346.6 969.1 357.6 966.2 362.1C964.5 364.7 962.3 365.2 960.2 367.1C957.7 369.3 954.4 371.3 952.2 374.5C949.5 378.5 948 384.5 946.1 390.1C944 396.3 942.9 404.8 940.1 410.1C937.9 414.3 934.9 417.3 932.1 420.1C929.6 422.6 926.3 423.8 924.1 426.5C921.7 429.4 920.4 433.4 918.5 436.9"/>
<path class="t" d="M952.2 360.1C950.8 361.6 949.3 362.6 948.1 364.5C946.5 367 945.5 370.5 944.1 374.1C942.3 378.7 940.8 386.8 938.1 390.1C936.4 392.3 934.1 392.8 932.1 394.1"/>
<path class="t" d="M940.1 378.1 L952.2 375.7"/>
<path class="t" d="M941.1 384.1 L950.2 381.1"/>
<path class="t" d="M924.1 370.1C926.1 375.4 928.6 380.9 930.1 386.1C931.5 390.9 932.1 395.4 933.1 400.1"/>
<path class="l" d="M922.5 398.1 L932.1 400.5 L938.1 394.1"/>
<path class="t" d="M930.1 402.1 L931.1 412.1 L938.1 408.1"/>
<path class="l" d="M825.4 350C825.2 355.2 824.4 361.2 824.9 365.6C825.2 368.8 825.4 371.8 827 373.9C828.7 376.2 832.5 377 835.3 378.6"/>
<path class="l" d="M856.2 399.4C857.2 404.6 857.7 409.7 859.3 415.1C861.1 421 864.2 427.2 866.6 433.3"/>
<path class="l" d="M866.6 433.3C871.8 433.7 877.1 433.5 882.2 434.6C887.5 435.7 893 437.5 897.8 439.8C902.5 442 906.5 445.2 910.8 447.9"/>
<path class="l" d="M910.8 447.9C914.3 444.8 918.3 442.5 921.2 438.5C924.6 433.7 926.8 426.2 929 420.3C931 414.9 931.4 410 934.2 404.7C937.7 398 944.6 390.8 949.8 383.8"/>
<path class="t" d="M908.2 443.7C911.7 440.7 915.8 438.5 918.6 434.6C921.8 430.2 923.5 423.7 925.9 418.2"/>
<path class="t" d="M921.2 419 L934.2 415.1 L935.5 406"/>
<path class="t" d="M869.2 404.7C870.1 409.9 870.1 415.8 871.8 420.3C873.3 424.3 876.1 427.2 878.3 430.7"/>
<path class="t" d="M897.8 402.1C899.5 407.3 901.7 412.2 903 417.7C904.4 423.5 904.7 429.8 905.6 435.9"/>
<path class="t" d="M887.9 430.2C889.3 430.2 891.2 429.5 892.1 430.2C892.9 430.8 893.4 432.8 893.1 433.8C892.8 434.9 891 435.5 890 436.4"/>
<!-- screw + washers -->
<path class="l" d="M831.4 391.6 L851 382.8"/>
<path class="l" d="M833.3 394.8 L852.3 385.9"/>
<path class="t" d="M849.6 377.3 L853.6 378.6 L853.6 383.3 L859.3 382.5 L859.8 385.4 L853 386.4"/>
<path class="t" d="M834 390.6 L835.3 393.2"/>
<path class="t" d="M836.4 389.6 L837.7 392.2"/>
<path class="t" d="M838.7 388.5 L840 391.1"/>
<path class="t" d="M841.1 387.5 L842.4 390.1"/>
<path class="t" d="M843.4 386.4 L844.7 389"/>
<path class="t" d="M845.7 385.4 L847 388"/>
<path class="t" d="M848.1 384.4 L849.4 387"/>
<ellipse class="l" cx="825.7" cy="397.4" rx="3" ry="3.8" transform="rotate(-15 825.7 397.4)"/>
<ellipse class="t" cx="825.7" cy="397.4" rx="1.3" ry="1.8" transform="rotate(-15 825.7 397.4)"/>
<ellipse class="l" cx="814.5" cy="404.7" rx="7.6" ry="10.6" transform="rotate(-22 814.5 404.7)"/>
<circle class="t" cx="814.5" cy="404.7" r="1.4"/>

<!-- 80_eng.svg -->
<!-- engine 20 -->
<path class="l" d="M797.5 580.2C794.8 580 791.8 579 789.3 579.5C787 580 784.7 581.4 783.2 582.9C781.9 584.2 780.9 585.8 780.5 587.7C779.9 590.3 780.6 594.2 781.2 597.2C781.8 600.1 783 602.9 783.9 605.7"/>
<path class="l" d="M774.3 627.2C773.8 628.1 772.6 628.9 772.7 629.9C772.8 631.2 775.1 632.7 776.4 634.3C778 636.3 779.8 638.7 781.8 640.8C784 643.1 786.3 645.7 789.3 647.7C792.7 649.9 797.6 651.5 801.6 653.1C805.3 654.6 809 655.4 812.5 657.2C816.2 659 819.8 661.7 823.4 664"/>
<path class="t" d="M785.2 585C785.9 586.8 787 588.5 787.3 590.4C787.6 592.5 786.4 594.8 786.6 597.2C786.8 599.8 788 602.7 788.7 605.4"/>
<path class="t" d="M790 581.6C790.7 583.6 791.9 585.6 792.1 587.7C792.4 589.9 791.6 592.2 791.4 594.5"/>
<path class="l" d="M788.7 595.9 L793.7 594.5 L794.8 604.1 L790 606.1Z"/>
<path class="t" d="M782.5 608.1C783.4 610.4 784.8 612.5 785.2 615C785.6 617.9 784.1 621.8 784.6 624.5C785 626.6 786.4 628.1 787.3 629.9"/>
<ellipse class="l" cx="769.6" cy="605.7" rx="4.8" ry="3" transform="rotate(-25 769.6 605.7)"/>
<ellipse class="t" cx="769.6" cy="605.7" rx="3.4" ry="1.9" transform="rotate(-25 769.6 605.7)"/>
<path class="l" d="M764.8 607.6C765.7 609.6 766.5 611.6 767.5 613.6C768.4 615.5 769.4 617.5 770.5 619.3C771.6 621.1 773 622.8 774.3 624.5"/>
<path class="l" d="M774.3 604.1C775.2 605.9 776.1 607.8 777.1 609.5C778.1 611.2 779.3 612.5 780.1 614.3C781 616.2 781.4 618.4 782 620.4"/>
<path class="l" d="M774.3 624.5C775.7 625 777.1 626.2 778.4 626.1C779.8 626 782 624.9 782.5 623.8C782.9 622.9 782.2 621.5 782 620.4"/>
<path class="t" d="M770.5 619.3C772.2 619.2 774.2 619.7 775.7 619C777.4 618.2 778.6 615.9 780.1 614.3"/>
<path class="t" d="M771.6 621.1C773.3 621 775.3 621.4 776.8 620.7C778.5 619.9 779.7 617.8 781.2 616.3"/>
<path class="t" d="M782 620.4 L783.2 610.9 L785.2 606.1"/>
<ellipse class="w" cx="804.6" cy="595.9" rx="7.2" ry="5.2" transform="rotate(38 804.6 595.9)"/>
<ellipse class="l" cx="804.8" cy="596.1" rx="5.6" ry="3.8" transform="rotate(38 804.8 596.1)"/>
<path class="l" d="M797.5 591.8C797.3 590 796.3 587.9 796.8 586.3C797.3 584.7 798.8 583.3 800.2 582.3C801.7 581.2 803.7 580.4 805.7 580.2C807.8 580 810.5 580.4 812.5 581.2C814.5 582 816.7 583.3 817.7 585C818.8 586.8 818.6 589.6 818.6 591.8C818.6 593.9 818.8 596.4 817.9 597.9C817.1 599.2 815.2 599.8 813.9 600.7"/>
<path class="t" d="M803 583.6C804.3 584.5 806 585.1 807 586.3C808 587.4 808.4 589 809.1 590.4"/>
<path class="t" d="M809.8 582.3C810.7 583.6 811.8 584.8 812.5 586.3C813.2 587.9 813.4 590 813.9 591.8"/>
<path class="t" d="M797.5 591.8C798 594.3 797.6 597.4 798.9 599.3C800.2 601.2 802.8 602.9 805 603.4C807.3 603.9 810 602.5 812.5 602"/>
<path class="t" d="M816.6 586.3 L822 582.3"/>
<path class="t" d="M818.6 591.8 L823.4 589.1"/>
<path class="l" d="M805 601.6 L826.8 604.3"/>
<path class="l" d="M805 607.1 L826.1 609.8"/>
<ellipse class="l" cx="827.8" cy="607.1" rx="2.4" ry="3" transform="rotate(10 827.8 607.1)"/>
<path class="t" d="M812.5 602.4 L812.8 608.8"/>
<path class="t" d="M822 603.8 L822.3 609.5"/>
<path class="t" d="M830.2 605.7 L853.4 608.8"/>
<path class="t" d="M829.9 608.4 L853.4 611.6"/>
<ellipse class="l" cx="855" cy="609.5" rx="2" ry="3"/>
<path class="l" d="M790.7 606.8C791.2 609.5 792 612.3 792.1 615C792.2 617.7 791.2 620.7 791.4 623.1C791.5 625.1 792.3 626.8 792.7 628.6"/>
<path class="t" d="M794.1 606.1C794.6 609.1 795.3 612 795.5 615C795.7 618.1 795.2 621.3 795.1 624.5"/>
<path class="l" d="M801.6 609.5C802.3 611.8 803.4 613.9 803.6 616.3C803.8 618.9 802 622.3 802.3 624.5C802.5 626.1 803.6 627.2 804.3 628.6"/>
<path class="t" d="M805 610.9C805.5 613.6 806.3 616.3 806.4 619C806.5 621.7 805.9 624.5 805.7 627.2"/>
<path class="l" d="M812.5 609.5C812.3 612.2 812.2 615.1 811.8 617.7C811.5 620.1 810.6 622.4 810.5 624.5C810.4 626.4 810.9 628.1 811.1 629.9"/>
<path class="t" d="M816.6 610.2C816.7 612.2 816.9 614.3 816.9 616.3C816.9 618.4 816.5 620.4 816.3 622.5"/>
<path class="t" d="M798.9 621.8 L803 620.4"/>
<path class="t" d="M809.8 628.6 L815.2 626.5"/>
<ellipse class="l" cx="789.6" cy="631.6" rx="2.2" ry="4.4" transform="rotate(10 789.6 631.6)"/>
<path class="l" d="M790.7 627.2 L824.8 634"/>
<path class="l" d="M789.3 635.7 L822 643.6"/>
<ellipse class="l" cx="824.8" cy="638.8" rx="3" ry="4.8" transform="rotate(10 824.8 638.8)"/>
<path class="l" d="M803.6 629.9C804.1 631.3 804.8 632.5 805 634C805.2 635.7 804.5 637.7 804.3 639.5"/>
<path class="t" d="M806.4 630.6C806.8 632 807.6 633.2 807.7 634.7C807.9 636.4 807.2 638.4 807 640.2"/>
<path class="t" d="M824.5 627.2 L826.1 630.6 L827.8 634"/>
<path class="t" d="M820.7 628.6 L824.5 627.2"/>
<path class="t" d="M813.9 649 L822 644.3 L817.9 647.7 L815.2 650.4"/>
<path class="t" d="M782.5 640.8C783.4 638.5 783.9 635.5 785.2 634C786.2 632.9 787.8 632.7 789.1 632"/>
<path class="t" d="M790.7 638.1C791.6 639.9 791.9 642 793.4 643.6C795.2 645.6 798.6 647 801.6 648.3C804.9 649.7 808.9 650.6 812.5 651.7"/>
<path class="t" d="M794.8 640.8C796.2 642.4 797.1 644.3 798.9 645.6C801 647.1 804.3 647.9 807 649"/>
<path class="l" d="M841.3 640.8 L838.8 645.5 L833.8 645.5 L831.3 640.8 L833.8 636.1 L838.8 636.1Z"/>
<ellipse class="l" cx="836.7" cy="640.8" rx="3" ry="3.4"/>
<ellipse class="t" cx="837.1" cy="640.8" rx="1.6" ry="2"/>
<path class="l" d="M830.2 648.3 L853.4 653.4"/>
<path class="t" d="M829.5 651.7 L852 657.2"/>
<path class="l" d="M823.4 664 L839.7 670"/>
<path class="t" d="M828.8 659.9 L845.2 665.4"/>
<path class="t" d="M817.9 651.7C819.7 653.5 822 655.1 823.4 657.2C824.7 659.2 825.2 661.7 826.1 664"/>
<path class="l" d="M823.9 663.4 L824.9 665.7 L857.8 672.8 L858.7 680.3 L872.9 686"/>
<path class="t" d="M840.9 667.2 L841.3 670"/>
<path class="t" d="M857.8 659.6 L865.3 680.3"/>
<path class="t" d="M861.6 660.6 L869.1 680.3"/>
<path class="l" d="M837.1 657.8C838 658.4 839.2 658.5 839.9 659.6C841.1 661.4 841.3 665.7 841.3 669C841.3 672.6 841 676.5 839.9 680.3C838.7 684.4 836.8 688.7 834.3 692.6C831.6 696.9 827.4 700.7 823.9 704.8"/>
<path class="l" d="M842.8 657.8C843.4 661.5 844.4 665.2 844.6 669C844.8 673 844.7 677.2 843.7 681.3C842.6 685.7 840.6 690.4 838.1 694.4C835.6 698.5 831.8 701.9 828.7 705.7"/>
<path class="l" d="M837.1 657.8C838 657.3 839 656.3 839.9 656.3C840.9 656.3 841.8 657.3 842.8 657.8"/>
<ellipse class="w" cx="878.9" cy="625.4" rx="30.5" ry="39.5" transform="rotate(-10 878.9 625.4)"/>
<path class="t" d="M854 599.5C852.9 603.9 851.4 607.8 850.7 612.6C849.9 618.3 849.5 625.3 849.9 631.4C850.3 637.2 851.3 643.7 853.1 648.4C854.5 652.1 856.8 654.7 858.7 657.8"/>
<ellipse class="l" cx="890.2" cy="628.6" rx="11.5" ry="17" transform="rotate(-10 890.2 628.6)" style="stroke-width:1.8"/>
<ellipse class="t" cx="890.2" cy="628.6" rx="9.5" ry="15" transform="rotate(-10 890.2 628.6)"/>
<ellipse cx="891.2" cy="623.8" rx="6.2" ry="2.5" transform="rotate(-6 890.2 623.8)" fill="#1e1e1e"/>
<ellipse cx="891.2" cy="623.8" rx="3.6" ry="0.9" transform="rotate(-6 890.2 623.8)" fill="#ddd"/>
<rect x="880.7" y="628" width="19" height="3.2" transform="rotate(-6 890.2 628.6)" fill="#1e1e1e"/>
<path class="t" d="M885.2 634.2 L894.2 633.4"/>
<path class="w" d="M870 664.5C871.1 663.1 873.2 662.4 875 661.8C876.9 661.2 878.9 660.8 881 660.8C883.2 660.8 886.2 661 888 662.2C889.7 663.3 891.2 665.5 891.8 667.5C892.4 669.5 892.3 672.2 891.5 674C890.7 675.7 888.8 676.9 887 678C885 679.2 882.3 680.1 880 680.5C878 680.9 875.7 681.1 874 680.5C872.4 679.9 870.9 678.6 870 677C868.9 675.2 868.4 672.2 868.5 670C868.6 668 868.9 665.9 870 664.5Z"/>
<path class="t" d="M882 662C883 664 884.7 665.9 885 668C885.4 670.2 884.9 673 884 675C883.2 676.8 881.3 678 880 679.5"/>
<path class="l" d="M857.5 663 L866 684 L873 687.2 L879.2 686.5 L880 684"/>
<path class="t" d="M861.5 664 L868.5 682"/>
<path class="t" d="M863.5 663.5 L870.5 680.5"/>
<path class="t" d="M840 661 L858 664"/>
<path class="t" d="M840 668.5 L857 671"/>
<path class="t" d="M843 663 L844 670"/>
<path class="l" d="M891.8 668.5 L902 672.5"/>
<path class="l" d="M885 680 L896 681.2 L901 683"/>
<path class="t" d="M873 687.2 L873.5 685.2"/>
<path class="t" d="M876.5 687 L876.8 684.8"/>
<path class="l" d="M929.8 631.4 L929.7 633.4 L927.4 634.5 L927.1 636 L928.4 638.9 L927.7 640.6 L925.4 639.8 L924.7 640.9 L924.8 644.4 L923.7 645.3 L921.9 642.9 L920.9 643.2 L919.9 646.5 L918.6 646.3 L917.9 642.9 L916.9 642.4 L915 644.4 L913.9 643.3 L914.4 639.8 L913.7 638.7 L911.4 638.9 L910.8 637.2 L912.4 634.5 L912.2 633 L910 631.4 L910.1 629.4 L912.4 628.3 L912.7 626.8 L911.4 623.9 L912.1 622.2 L914.4 623 L915.1 621.9 L915 618.4 L916.1 617.5 L917.9 619.9 L918.9 619.6 L919.9 616.3 L921.2 616.5 L921.9 619.9 L922.9 620.4 L924.8 618.4 L925.9 619.5 L925.4 623 L926.1 624.1 L928.4 623.9 L929 625.6 L927.4 628.3 L927.6 629.8Z"/>
<ellipse class="l" cx="919.9" cy="631.4" rx="4.3" ry="6.7" style="stroke-width:1.8"/>
<ellipse class="t" cx="919.9" cy="631.4" rx="6.8" ry="10.4"/>
<path class="t" d="M920.9 630.2a1.5 2 0 1 0 0 2.4"/>
<path class="t" d="M904.8 608.9C906.7 610.1 909.1 610.9 910.5 612.6C912 614.5 912.4 617.6 913.3 620.1"/>
<path class="t" d="M906.7 642.7C908 645.2 910.3 647.8 910.5 650.2C910.6 652.2 909.2 654 908.6 655.9"/>
<path class="l" d="M901 657C902 656.5 902.8 655.8 904 655.5C905.6 655.2 908.2 655.6 910 655.8C911.5 656 913 655.9 914 656.6C915 657.3 915.6 658.6 916 660C916.5 662 916.4 666.4 915.6 668C915.1 668.9 914.2 669.1 913.5 669.6"/>
<path class="l" d="M901 657 L900 663 L902 665 L913.5 669.6"/>
<ellipse class="l" cx="903.5" cy="661" rx="2.6" ry="2.4"/>
<ellipse class="t" cx="904.1" cy="661" rx="1.4" ry="1.4"/>
<path class="t" d="M904 650 L905 655"/>
<path class="t" d="M909 651 L910 655.6"/>
<ellipse class="t" cx="906" cy="652.5" rx="1.6" ry="1.6"/>
<path class="l" d="M902.9 586.3 L910.5 582.5 L925.5 584.4 L928.3 589.1 L925.5 593.8"/>
<path class="t" d="M916.1 593.8 L921.8 608.9 L919.9 615.4"/>
<path class="t" d="M923.6 592.9 L925.5 608.9"/>
<ellipse class="l" cx="925.5" cy="588.2" rx="1.6" ry="2.4"/>
<ellipse class="t" cx="910.5" cy="583.5" rx="2.6" ry="1.6"/>
<ellipse class="w" cx="906" cy="676.8" rx="4.2" ry="6.2"/>
<ellipse class="l" cx="907" cy="677.1" rx="2.2" ry="3.2"/>
<path class="t" d="M902 672.5 L906 670.6"/>
<path class="t" d="M901 683 L905.5 683"/>
<path class="l" d="M910 674.7 L920 677"/>
<path class="l" d="M910 680.8 L919 682.6"/>
<path class="l" d="M920 677C920.7 677.8 922.2 678.6 922.2 679.5C922.2 680.5 920.1 681.6 919 682.6"/>
<path class="t" d="M912.5 675.2 L912.2 681.2"/>
<path class="t" d="M914.5 675.7 L914.2 681.6"/>
<path class="t" d="M916.5 676.2 L916.2 682"/>
<path class="t" d="M918.5 676.7 L918.2 682.4"/>
<path class="w" d="M793.6 557.2C793.2 553.9 795.1 548.4 797.7 545.2C800.4 541.8 805.3 539.4 810 537.6C815.5 535.5 822.8 534.2 829 534.1C835 534 842.1 534.8 846.8 536.8C850.5 538.4 853.8 540.8 855.6 543.6C857.3 546.3 858.5 550.3 857.7 553.1C856.8 556.2 853.2 559.1 849.5 561.3C844.7 564.1 836.8 565.9 830.4 566.8C824.1 567.7 817.1 567.5 811.3 566.8C806.3 566.2 800.7 565.5 797.7 563.4C795.5 561.9 793.9 559.7 793.6 557.2Z"/>
<path class="l" d="M794.3 560C795.7 562.3 796.2 565.1 798.4 566.8C801.3 569 806.5 569.6 811.3 570.2C817 570.9 824.1 571.1 830.4 570.2C836.8 569.3 844.6 567.8 849.5 564.9C853.4 562.6 855.4 558.9 858.3 555.9"/>
<path class="l" d="M794.3 560C794.6 562.7 794.8 565.5 795.3 568.1C795.7 570.5 796.2 572.7 797 574.9C797.9 577.2 799.3 579.5 800.4 581.8"/>
<path class="l" d="M859 554.5C859.3 557.2 859.9 560 860 562.7C860.1 565.4 860.1 568.1 859.6 570.9C859 574 857.6 577.2 856.6 580.4"/>
<path class="l" d="M800.4 581.8C803.6 583.1 806.8 584.6 810 585.6C813.1 586.5 815.8 587.2 819.5 587.5C824.7 588 832.8 588.1 838.6 587.2C843.6 586.4 848.6 585.2 852.2 583.1C855.1 581.3 856.7 578.6 859 576.3"/>
<path class="t" d="M805.9 587.2C811.3 588.6 816.7 590.4 822.2 591.3C827.6 592.2 833.2 593.3 838.6 592.7C844.1 592.1 849.5 589.2 854.9 587.5"/>
<path class="t" d="M797 570.9C801.8 572 806.2 573.7 811.3 574.3C817.2 575 824.1 575.2 830.4 574.3C836.8 573.4 844.5 571.6 849.5 568.8C853.5 566.5 855.8 562.9 859 560"/>
<path class="t" d="M799.1 576.3C803.6 577.7 807.7 579.7 812.7 580.4C818.5 581.3 825.6 581.2 831.8 580.4C837.9 579.6 844.7 578 849.5 575.6C853.4 573.6 855.8 570.6 859 568.1"/>
<path class="t" d="M822.2 570.9 L823.6 580.4"/>
<path class="t" d="M834.5 568.1 L835.9 581.8"/>
<path class="l" d="M842.9 563C844.3 560.4 851.2 557.7 853.3 558.9C855.5 560.1 856.9 568.1 855.5 570.9C854.2 573.5 847.8 576.6 845.7 575.6C843.4 574.5 841.4 565.8 842.9 563Z"/>
<path class="t" d="M844.7 564.7C845.7 562.8 850.7 560.8 852.2 561.6C853.7 562.4 854.7 567.8 853.8 569.8C852.9 571.8 848.3 574.3 846.8 573.6C845.2 572.9 843.7 566.7 844.7 564.7Z"/>
<path class="t" d="M846.1 568.1 L852.9 565.4"/>
<path class="t" d="M848.1 564 L849.5 572.2"/>
<path class="t" d="M850.8 563 L851.9 570.9"/>
<path class="t" d="M799.1 557.2C802.7 558.6 805.8 560.5 810 561.3C815.4 562.4 822.8 562.7 829 562C835.1 561.3 842.2 559.6 846.8 557.2C850.3 555.4 852.2 552.7 854.9 550.4"/>
<path class="t" d="M805.9 545C809.5 543.6 812.9 541.8 816.8 540.9C821 539.9 825.9 539.5 830.4 539.5C834.9 539.5 840.4 539.7 844 540.9C846.8 541.8 848.5 543.6 850.8 545"/>
<path class="l" d="M814.3 511.2 L815.1 513.6"/>
<circle class="t" cx="814.7" cy="510.9" r="0.8"/>
<path class="l" d="M812.7 515.3 L813.5 523.4 L815.7 533.4"/>
<path class="l" d="M818.1 513.9 L820.6 522.9 L823.9 532.7"/>
<path class="l" d="M812.7 515.3 L818.1 513.9"/>
<path class="t" d="M813.1 517.4 L819.8 516.4"/>
<path class="t" d="M813.3 519.8 L820.4 518.7"/>
<path class="t" d="M813.5 521.8 L820.9 520.7"/>
<path class="w" d="M815.1 533.8 L826.3 531.6 L827.1 538.8 L816.5 540.9Z"/>
<path class="t" d="M819.5 533.1 L820.6 540.2"/>
<path class="t" d="M823.6 532.4 L824.4 539.5"/>
<path class="l" d="M817.5 540.9 L818.4 547"/>
<path class="l" d="M826.3 539.2 L827.4 545"/>
<path class="l" d="M818.4 547C819.9 547.2 821.4 548 822.9 547.7C824.5 547.4 825.9 545.9 827.4 545"/>
<path class="t" d="M811.3 546.3C814 547.7 816.6 550.1 819.5 550.4C822.5 550.7 826.7 549.3 829 547.7C830.9 546.4 831.7 544 833.1 542.2"/>
<ellipse class="l" cx="836.1" cy="519.1" rx="5.6" ry="2.6" transform="rotate(-5 836.1 519.1)"/>
<ellipse class="t" cx="836.1" cy="519.1" rx="4.2" ry="1.6" transform="rotate(-5 836.1 519.1)"/>
<path class="l" d="M830.7 519.9 L831.8 531.3"/>
<path class="l" d="M841.9 518.8 L843.4 530.3"/>
<path class="t" d="M831.8 531.3C833.6 531.8 835.4 532.8 837.2 532.7C839.2 532.6 841.3 531.1 843.4 530.3"/>
<path class="w" d="M800.9 543.2 L808.9 541.4 L810.1 548.7 L802.1 550.6Z"/>
<path class="t" d="M804.6 542.2 L805.8 549.6"/>
<ellipse class="t" cx="805.2" cy="542.2" rx="2.3" ry="1.2" transform="rotate(-8 805.2 542.2)"/>
<path class="t" d="M803.7 538.3 L804.2 542.2"/>
<path class="t" d="M806.4 538 L806.9 542"/>
<path class="t" d="M803.7 538.3 L806.4 538"/>
<path class="w" d="M820.1 546.1 L825.4 544.8 L826.2 549.7 L820.9 551Z"/>
<path class="t" d="M822.5 545.4 L823.3 550.3"/>
<ellipse class="t" cx="822.9" cy="545.4" rx="1.6" ry="0.8" transform="rotate(-8 822.9 545.4)"/>
<path class="t" d="M821.9 542.8 L822.3 545.4"/>
<path class="t" d="M823.7 542.6 L824.1 545.2"/>
<path class="t" d="M821.9 542.8 L823.7 542.6"/>
<path class="w" d="M841.6 530.5 L848.7 528.9 L849.8 535.4 L842.7 537.1Z"/>
<path class="t" d="M844.9 529.7 L845.9 536.2"/>
<ellipse class="t" cx="845.4" cy="529.7" rx="2.1" ry="1" transform="rotate(-8 845.4 529.7)"/>
<path class="t" d="M844.1 526.2 L844.5 529.7"/>
<path class="t" d="M846.5 525.9 L846.9 529.4"/>
<path class="t" d="M844.1 526.2 L846.5 525.9"/>
<path class="t" d="M846.8 525.9C848.6 526.8 851.1 527.1 852.2 528.6C853.4 530.2 854.2 533.5 853.6 535.4C853.1 537.1 850.9 538.1 849.5 539.5"/>
<ellipse class="l" cx="885.8" cy="532.8" rx="6.4" ry="2.8"/>
<ellipse class="l" cx="885.8" cy="531.8" rx="2.6" ry="2"/>
<path class="l" d="M879.5 533.3 L880.1 550.1"/>
<path class="l" d="M891.6 533.8 L891.4 546.3"/>
<path class="l" d="M893.3 534.1 L893.4 540.1 L896.4 540.1 L896.4 534.1"/>
<ellipse class="l" cx="894.9" cy="534.1" rx="1.6" ry="1"/>
<path class="t" d="M880.1 540.1 L891.4 539.5"/>
<path class="t" d="M887.6 546.3 L895.8 546.3 L895.8 551.4"/>
<path class="l" d="M900.2 544.5C902.7 544.1 905.7 542.3 907.7 543.2C909.9 544.1 912.3 547.8 912.7 550.4C913.1 553 911.8 556.8 910.2 558.9C908.7 560.8 906 561.4 903.9 562.6"/>
<path class="t" d="M900.2 544.5C901 546.8 902.1 548.8 902.7 551.4C903.4 554.6 903.5 558.9 903.9 562.6"/>
<circle class="t" cx="900.2" cy="546.3" r="1.6"/>
<circle class="t" cx="902.1" cy="551.4" r="1.6"/>
<path class="l" d="M861.3 557.6C863.4 556.7 865.5 555.5 867.6 554.9C869.6 554.3 871.7 553.7 873.8 553.9C876.2 554.2 879.5 555.3 881.4 557C883.2 558.7 885.1 561.8 885.1 563.9C885.1 565.7 883.8 567.7 882.6 568.9C881.6 569.9 880.1 570.2 878.9 570.8"/>
<path class="l" d="M860 563.3C862.1 562.2 864.1 560.8 866.3 560.1C868.5 559.4 871.2 558.4 873.2 558.9C875 559.4 877 561 877.9 562.6C878.8 564.3 878.4 566.8 878.6 568.9"/>
<path class="t" d="M876.3 556.4C877.8 558.1 879.9 559.5 880.7 561.4C881.5 563.3 881.2 565.6 881.4 567.7"/>
<path class="l" d="M866.9 547.6 L877.6 548.2 L882.6 551.4"/>
<path class="l" d="M866.9 547.6C866.7 548.9 866.1 550.2 866.3 551.4C866.5 552.6 867.6 553.7 868.2 554.9"/>
<ellipse class="t" cx="869.5" cy="549.5" rx="1.6" ry="2.4"/>
<path class="t" d="M877.6 548.2 L878.2 552.6"/>
<path class="t" d="M882.6 551.4 L886.4 552.6 L886.4 556.4"/>
<path class="l" d="M886.4 570.2C889.3 569.4 892.2 568.1 895.2 567.7C898.1 567.3 902 566.4 903.9 567.9C905.9 569.5 907.3 574.9 906.4 577.7C905.5 580.7 901 584.2 897.7 585.2C894.4 586.2 889 585.6 886.4 584C884.3 582.7 883.9 579.8 882.6 577.7"/>
<path class="t" d="M893.9 573.9C895.1 572.5 899.8 571.7 901.4 572.7C902.8 573.6 903.9 577.2 903.3 578.9C902.7 580.6 899.4 582.7 897.7 582.7C896.3 582.7 894.6 581.5 893.9 580.2C893.1 578.7 892.8 575.2 893.9 573.9Z"/>
<circle class="t" cx="890.8" cy="576.4" r="1.8"/>
<ellipse class="t" cx="898.9" cy="561.6" rx="2.6" ry="1.8" transform="rotate(-20 898.9 561.6)"/>
<path class="l" d="M903.9 549.1C905 551.9 906.5 554.6 907.2 557.6C907.9 560.8 908.1 564.4 907.9 567.7C907.7 571.1 907.6 574.9 906.2 577.7C904.9 580.3 902.4 582.4 900.2 584C898.2 585.4 896.4 586.7 893.9 587.1C890.7 587.6 886.4 585.8 882.6 585.2"/>
<path class="t" d="M905.4 548.6C906.5 551.6 908 554.4 908.7 557.6C909.4 561 909.7 564.8 909.5 568.3C909.3 571.7 909.1 575.4 907.7 578.3C906.3 581 903.7 583.4 901.4 585.2C899.3 586.8 896.8 587.5 894.5 588.7"/>
<path class="t" d="M887.6 563.9 L895.2 561.4 L903.9 562.6"/>
<path class="t" d="M886.4 552.6 L895.2 552.6"/>
<path class="l" d="M857.5 567.7 L870.1 568.9 L872 573.9 L860 573.9"/>
<path class="t" d="M858.8 571.4 L865.1 577.7 L873.8 582.7 L882.6 585.2"/>
<ellipse class="t" cx="861.9" cy="575.2" rx="2.6" ry="3.6"/>
<path class="t" d="M870.1 570.2 L876.3 580.2"/>
<path class="t" d="M873.2 571.4 L880.1 581.5"/>
<path class="t" d="M856.9 580.2 L873.8 585.2 L897.7 590.2"/>
<path class="l" d="M907.7 581.5 L915.2 580.8 L923.4 583"/>
<ellipse class="l" cx="925.3" cy="588.4" rx="2.6" ry="4" transform="rotate(10 925.3 588.4)"/>
<path class="l" d="M923.4 583C924.9 583.7 926.9 583.9 927.8 585C928.6 586 929 587.8 928.8 589C928.6 590.2 927.6 591.2 926.5 592.1C925 593.4 922.3 594.2 920.2 595.3"/>
<ellipse class="l" cx="912.1" cy="583.7" rx="3.4" ry="1.8" transform="rotate(10 912.1 583.7)"/>
<ellipse class="t" cx="919" cy="591.7" rx="2" ry="1.4"/>
<path class="t" d="M920.2 595.3 L917.7 607"/>
<path class="t" d="M907.7 596.5 L910.2 607"/>
<path class="t" d="M900.2 592.7 L906.4 602.8"/>
<path class="t" d="M857.5 595.3C860.9 593.2 863.9 590.5 867.6 589C871.4 587.5 875.9 586.5 880.1 586.5C884.3 586.5 889.1 587.3 892.6 589C895.7 590.5 897.7 593.2 900.2 595.3"/>
<path class="t" d="M880.4 538.2 L880.4 555.9"/>
<path class="t" d="M883.8 538.9 L884 550.4"/>
<path class="t" d="M887.9 547.7 L896.8 547.4 L897.1 555.9 L887.9 556.2Z"/>
<path class="t" d="M880.4 543.6C882.2 544 884 544.7 885.9 544.7C887.9 544.7 890 543.8 892 543.4"/>
<path class="t" d="M880.4 549.1C882.2 549.5 884 550.2 885.9 550.2C887.9 550.2 890 549.3 892 548.8"/>
<path class="t" d="M900.9 545C901.9 547.3 903.1 549.3 903.9 551.8C904.8 554.8 905 558.6 905.6 562"/>
<path class="t" d="M902.5 543.6C904 545.9 906.1 547.8 907 550.4C908 553.4 907.5 557.3 907.7 560.7"/>
<path class="l" d="M877.7 557.2C879.5 557.9 881.9 558.1 883.2 559.3C884.5 560.4 885.5 562.4 885.6 564.1C885.7 565.9 884.4 567.9 883.8 569.8"/>
<path class="t" d="M875 557.9C876.8 558.7 879.1 559 880.4 560.2C881.6 561.3 882.3 563.1 882.5 564.7C882.7 566.4 881.6 568.4 881.1 570.2"/>
<path class="l" d="M866.8 547.7 L874.7 547 L875.3 554.5 L867.5 555.3Z"/>
<ellipse class="t" cx="870.9" cy="551.1" rx="2" ry="2.6"/>
<path class="l" d="M860 564.1C864.1 566.4 868.7 568 872.3 570.9C876 573.9 878 578.9 881.8 581.8C885.7 584.8 890.9 586.3 895.4 588.6"/>
<path class="t" d="M860 567.5C863.6 569.6 867.6 571.2 870.9 573.9C874.4 576.8 876.7 581.7 880.4 584.5C884 587.2 888.6 588.6 892.7 590.6"/>
<path class="t" d="M865.4 570.9C866.3 573.6 866.5 576.8 868.2 579C870 581.4 873.6 582.7 876.3 584.5"/>
<path class="t" d="M872.3 577.7 L877.7 575 L881.8 579"/>
<path class="t" d="M860 573.6 L865.4 575 L866.8 580.4 L861.4 581.8"/>
<ellipse class="l" cx="862.7" cy="577" rx="1.8" ry="2.6"/>
<path class="t" d="M885.9 573.9C887.2 572.1 891.1 571.6 894.1 570.9C897.4 570.1 902.9 568.4 905 569.8C906.7 570.9 907.5 574.2 907.1 576.3C906.6 578.7 903.6 581.7 900.9 583.1C898 584.6 892.6 585.3 890 584.5C888.1 583.9 886.6 582.3 885.9 580.7C885.1 578.9 884.8 575.5 885.9 573.9Z"/>
<path class="t" d="M888.6 575C889.3 576.8 889.5 579 890.7 580.4C891.8 581.7 893.8 582.2 895.4 583.1"/>
<path class="t" d="M894.1 572.2C896.4 573.1 899.3 573.5 900.9 575C902.3 576.3 902.7 578.6 903.6 580.4"/>
<path class="t" d="M887.2 564.1 L895.4 562 L903.6 564.1"/>
<path class="t" d="M889.3 566.8 L900.9 565.7"/>
<ellipse class="t" cx="898.1" cy="562" rx="1.6" ry="1.6"/>
<path class="l" d="M919.9 594 L918.9 611.7"/>
<path class="l" d="M911.8 595.4 L909.3 606.3 L914.5 614.7"/>
<path class="t" d="M907 595.4 L909.9 600.8 L907.7 603.6 L911.8 607.9 L914.5 611.7"/>
<path class="t" d="M900.9 589.9 L905 594 L903.6 598.1"/>
<path class="t" d="M896.8 591.3 L900.9 595.4"/>
<ellipse class="l" cx="912.6" cy="583.4" rx="3.6" ry="2" transform="rotate(10 912.6 583.4)"/>
<ellipse class="t" cx="918.6" cy="592.1" rx="2.4" ry="1.6"/>
<path class="t" d="M906.3 582.5 L917.2 581.1 L925.7 584"/>

<!-- 90_misc.svg -->
<!-- lever 24 -->
<path class="l" d="M732.8 533 L745.8 534.1"/>
<path class="l" d="M732.4 536 L745.4 537.6"/>
<path class="l" d="M732.8 533C732.4 533.5 731.5 534 731.5 534.5C731.5 535 732.1 535.5 732.4 536"/>
<path class="t" d="M734.4 533.2 L734 536.2"/>
<path class="t" d="M736.1 533.3 L735.7 536.4"/>
<path class="t" d="M737.8 533.5 L737.4 536.5"/>
<path class="t" d="M739.5 533.6 L739.1 536.7"/>
<path class="t" d="M741.2 533.8 L740.8 536.8"/>
<path class="t" d="M742.9 533.9 L742.6 537"/>
<path class="t" d="M744.7 534.1 L744.3 537.1"/>
<path class="l" d="M745.8 534.1C747.6 534.5 749.6 534.2 751.1 535.3C753 536.7 753.8 540.1 755.3 542.9C757.1 546.2 758.6 550.1 761.1 553.6C763.9 557.5 768.2 561.2 771.8 565"/>
<path class="l" d="M745.4 537.6C746.7 538.2 748.1 538.4 749.2 539.5C750.8 541.2 751.8 544.9 753.1 547.7C754.5 550.6 755.3 553.5 757.3 556.6C759.9 560.8 764.6 565.5 768.3 570"/>
<path class="l" d="M771.8 565C773.9 564.5 776.5 562.9 778.2 563.5C780 564.2 781.6 567 782.4 569.2C783.3 571.6 784 575.3 783.2 577.3C782.6 578.9 780.8 580.4 779.4 580.7C778 581 775.9 580.5 774.8 579.5C773.5 578.4 773.6 575.4 772.5 573.8C771.4 572.3 769.7 571.3 768.3 570"/>
<ellipse class="l" cx="778.2" cy="575.7" rx="2.6" ry="3.4"/>
<ellipse class="t" cx="778.2" cy="575.7" rx="1.3" ry="1.8"/>
<path class="t" d="M773.5 565.8 L776.3 570"/>
<circle class="t" cx="774.8" cy="567.3" r="1.1"/>
<!-- bolt 23 -->
<path class="l" d="M716.2 613.5 L719.1 611.6 L723.9 612.7 L724.4 619.2 L721.4 621.5 L716.8 619.6Z"/>
<path class="t" d="M719.1 611.6 L719.7 620.8"/>
<path class="l" d="M724.2 614.3 L763.4 625.5"/>
<path class="l" d="M724 618.1 L762.2 629.5"/>
<path class="l" d="M763.4 625.5C763.8 626.3 764.7 627.3 764.5 628C764.3 628.7 763 629 762.2 629.5"/>
<path class="t" d="M751.9 622.3 L751.1 626.1"/>
<path class="t" d="M753.6 622.8 L752.9 626.6"/>
<path class="t" d="M755.3 623.3 L754.6 627.1"/>
<path class="t" d="M757.1 623.8 L756.3 627.6"/>
<path class="t" d="M758.8 624.3 L758 628.1"/>
<path class="t" d="M760.5 624.8 L759.7 628.6"/>
<path class="t" d="M762.2 625.3 L761.5 629.1"/>
<!-- bolt 21 -->
<path class="l" d="M935.2 660.4 L940.6 660.1 L940.8 662.7 L935.5 663Z"/>
<path class="l" d="M936.6 663 L936.8 671.2"/>
<path class="l" d="M939.4 662.8 L939.5 671.2"/>
<path class="l" d="M936.8 671.2 L939.5 671.2"/>
<path class="t" d="M936.8 664.1 L939.5 663.8"/>
<path class="t" d="M936.8 665.3 L939.5 665"/>
<path class="t" d="M936.8 666.6 L939.5 666.3"/>
<path class="t" d="M936.8 667.8 L939.5 667.5"/>
<path class="t" d="M936.8 669.1 L939.5 668.7"/>
<path class="t" d="M936.8 670.3 L939.5 670"/>
<!-- kick lever 22 -->
<path class="l" d="M932.1 679C933.1 678.2 933.9 677 935.2 676.7C936.7 676.4 939.3 676.8 940.6 677.7C941.8 678.6 942.7 680.4 943 682.1C943.4 684.1 943.2 687.5 942.2 689.1C941.4 690.4 939.6 690.8 938.3 691.7"/>
<ellipse class="l" cx="939.1" cy="686" rx="2.4" ry="3"/>
<ellipse class="t" cx="939.1" cy="686" rx="1.2" ry="1.6"/>
<path class="t" d="M938.3 677.4 L940.6 681.3"/>
<path class="t" d="M940.2 677.1 L942.3 680.5"/>
<path class="l" d="M932.1 679C930.6 682.1 929.7 685.1 927.7 688.3C925.3 692.2 921.5 697.8 918.4 700.4C916.2 702.2 914.1 702.7 911.9 703.8"/>
<path class="l" d="M938.3 691.7C935.8 694.7 933.7 698.1 930.9 700.7C928.1 703.3 924.6 705 921.5 707.2"/>
<path class="l" d="M904.9 704.6 L910.7 702 L915.3 704.6 L915.3 706.9"/>
<path class="l" d="M904.9 704.6 L905.4 710.8 L910.7 713.1"/>
<path class="l" d="M910.7 713.1 L929.8 715"/>
<path class="l" d="M915.3 705.1 L930.5 708.2"/>
<ellipse class="l" cx="930.1" cy="711.6" rx="2.4" ry="3.6" transform="rotate(5 930.1 711.6)"/>
<path class="t" d="M910.7 704.6 L910.7 713.1"/>
<path class="t" d="M916.6 705.7 L916.6 713.8"/>
<path class="t" d="M923.6 706.9 L923.6 714.4"/>
<ellipse class="t" cx="914.2" cy="703.8" rx="1.6" ry="1"/>
<path class="t" d="M916.6 708.5C917.6 709 919.3 709.2 919.7 710C920.1 710.8 919.2 712.1 918.9 713.1"/>
<!-- clamp 25 -->
<ellipse class="l" cx="602.7" cy="595.9" rx="11" ry="17.5" transform="rotate(-40 602.7 595.9)"/>
<ellipse class="t" cx="601.1" cy="596.5" rx="10" ry="16.6" transform="rotate(-40 601.1 596.5)"/>
<ellipse class="t" cx="599.9" cy="597.1" rx="9.4" ry="16" transform="rotate(-40 599.9 597.1)"/>
<path class="l" d="M587.4 578.2 L590.4 574.1 L593.8 575.2 L595.9 578.8 L591.8 582.2 L588.4 581.6Z"/>
<path class="t" d="M589.1 576.8 L592.5 580.9"/>
<path class="t" d="M590.4 575.4 L594.3 579.5"/>
<path class="t" d="M591.8 574.8 L595.2 578.4"/>
<path class="t" d="M595.2 579.3 L598.6 577.5"/>
<path class="t" d="M588.4 581.6C587.5 582.5 586 583.2 585.7 584.3C585.4 585.5 586.1 587.6 587 588.4C587.8 589.1 589.3 588.9 590.4 589.1"/>
<path class="t" d="M587 585.7 L591.1 587"/>


<text class="n" x="336.4" y="51.5" text-anchor="middle" textLength="7.3" lengthAdjust="spacingAndGlyphs">4</text>
<path class="ld" d="M331.5 50.5L311.5 61"/>
<text class="n" x="362.5" y="78.6" text-anchor="middle" textLength="7.3" lengthAdjust="spacingAndGlyphs">3</text>
<path class="ld" d="M356.5 80L339 90.6"/>
<text class="n" x="420" y="120" text-anchor="middle" textLength="7.3" lengthAdjust="spacingAndGlyphs">2</text>
<path class="ld" d="M416.7 121L405.4 126"/>
<path class="ld" d="M423.5 121L432.5 130.7"/>
<text class="n" x="512" y="161.5" text-anchor="middle" textLength="7.3" lengthAdjust="spacingAndGlyphs">1</text>
<path class="ld" d="M509.5 160L478 186"/>
<text class="n" x="232" y="180.5" text-anchor="middle" textLength="7.3" lengthAdjust="spacingAndGlyphs">5</text>
<path class="ld" d="M236 175.6L255 176.3"/>
<text class="n" x="102" y="210" text-anchor="middle" textLength="14.6" lengthAdjust="spacingAndGlyphs">53</text>
<path class="ld" d="M103 211L104 227"/>
<text class="n" x="36" y="236.6" text-anchor="middle" textLength="14.6" lengthAdjust="spacingAndGlyphs">52</text>
<path class="ld" d="M39.5 238L58 252.5"/>
<text class="n" x="13.8" y="304" text-anchor="middle" textLength="14.6" lengthAdjust="spacingAndGlyphs">49</text>
<path class="ld" d="M19.5 305.5L26 316"/>
<text class="n" x="180.3" y="317.4" text-anchor="middle" textLength="14.6" lengthAdjust="spacingAndGlyphs">51</text>
<path class="ld" d="M172.5 315L158 320"/>
<text class="n" x="229.1" y="322" text-anchor="middle" textLength="14.6" lengthAdjust="spacingAndGlyphs">55</text>
<path class="ld" d="M231 324L249 343"/>
<text class="n" x="303" y="334.6" text-anchor="middle" textLength="14.6" lengthAdjust="spacingAndGlyphs">46</text>
<path class="ld" d="M295 330L274.4 331"/>
<text class="n" x="213.5" y="372.6" text-anchor="middle" textLength="14.6" lengthAdjust="spacingAndGlyphs">50</text>
<path class="ld" d="M205 366L187 361.6"/>
<path class="ld" d="M205 373L189 391"/>
<text class="n" x="319.2" y="380.6" text-anchor="middle" textLength="14.6" lengthAdjust="spacingAndGlyphs">45</text>
<path class="ld" d="M312 380.6L298 387"/>
<text class="n" x="334" y="418" text-anchor="middle" textLength="14.6" lengthAdjust="spacingAndGlyphs">47</text>
<path class="ld" d="M329 420L319 430"/>
<text class="n" x="95.2" y="462.8" text-anchor="middle" textLength="14.6" lengthAdjust="spacingAndGlyphs">54</text>
<path class="ld" d="M100.8 449L107 439.5"/>
<text class="n" x="183" y="488" text-anchor="middle" textLength="14.6" lengthAdjust="spacingAndGlyphs">49</text>
<path class="ld" d="M179 475L169 462"/>
<path class="ld" d="M191 480L208 477"/>
<text class="n" x="325.7" y="478.2" text-anchor="middle" textLength="14.6" lengthAdjust="spacingAndGlyphs">42</text>
<path class="ld" d="M324.6 480L319.8 495.2"/>
<text class="n" x="225.9" y="530" text-anchor="middle" textLength="14.6" lengthAdjust="spacingAndGlyphs">48</text>
<path class="ld" d="M234.6 524.1L249.8 516.9"/>
<text class="n" x="263.8" y="566" text-anchor="middle" textLength="14.6" lengthAdjust="spacingAndGlyphs">41</text>
<path class="ld" d="M272.3 559.5L287.6 552.3"/>
<text class="n" x="301.5" y="669.6" text-anchor="middle" textLength="14.6" lengthAdjust="spacingAndGlyphs">37</text>
<path class="ld" d="M310 656L324 644"/>
<text class="n" x="342" y="692" text-anchor="middle" textLength="14.6" lengthAdjust="spacingAndGlyphs">38</text>
<path class="ld" d="M351 680L368 663"/>
<text class="n" x="382" y="710" text-anchor="middle" textLength="14.6" lengthAdjust="spacingAndGlyphs">39</text>
<path class="ld" d="M391 699L410 681"/>
<text class="n" x="427.4" y="729" text-anchor="middle" textLength="14.6" lengthAdjust="spacingAndGlyphs">40</text>
<path class="ld" d="M429 718L436 692"/>
<text class="n" x="396.1" y="389.4" text-anchor="middle" textLength="14.6" lengthAdjust="spacingAndGlyphs">44</text>
<path class="ld" d="M398.8 391.6L405 410.5"/>
<text class="n" x="434.2" y="478" text-anchor="middle" textLength="14.6" lengthAdjust="spacingAndGlyphs">43</text>
<path class="ld" d="M432 479.3L425 487.4"/>
<path class="ld" d="M436.6 479.3L448.8 503.6"/>
<text class="n" x="493.3" y="555.7" text-anchor="middle" textLength="14.6" lengthAdjust="spacingAndGlyphs">36</text>
<path class="ld" d="M487.9 557.4L478.5 569"/>
<text class="n" x="524.8" y="588" text-anchor="middle" textLength="14.6" lengthAdjust="spacingAndGlyphs">35</text>
<path class="ld" d="M515.7 583.6L504.1 584.4"/>
<text class="n" x="492.2" y="279.9" text-anchor="middle" textLength="7.3" lengthAdjust="spacingAndGlyphs">6</text>
<path class="ld" d="M487.2 276L461.6 280.7"/>
<text class="n" x="494.2" y="336.7" text-anchor="middle" textLength="7.3" lengthAdjust="spacingAndGlyphs">7</text>
<path class="ld" d="M489.8 331.2L459 332.8"/>
<text class="n" x="495.1" y="365.8" text-anchor="middle" textLength="7.3" lengthAdjust="spacingAndGlyphs">8</text>
<path class="ld" d="M490.3 360.6L459 364.5"/>
<text class="n" x="566.4" y="352.8" text-anchor="middle" textLength="14.6" lengthAdjust="spacingAndGlyphs">30</text>
<path class="ld" d="M568.4 355.4L582.7 374.9"/>
<text class="n" x="610.7" y="412.7" text-anchor="middle" textLength="14.6" lengthAdjust="spacingAndGlyphs">34</text>
<path class="ld" d="M602.2 408.3L590.5 411.4"/>
<path class="ld" d="M583.4 413.9L576.2 418.7"/>
<text class="n" x="537.5" y="442.4" text-anchor="middle" textLength="14.6" lengthAdjust="spacingAndGlyphs">33</text>
<path class="ld" d="M546 437L564.9 438.8"/>
<text class="n" x="544.6" y="467.7" text-anchor="middle" textLength="14.6" lengthAdjust="spacingAndGlyphs">32</text>
<path class="ld" d="M552.7 463.1L570.3 463.1"/>
<text class="n" x="566.3" y="519.2" text-anchor="middle" textLength="14.6" lengthAdjust="spacingAndGlyphs">31</text>
<path class="ld" d="M568.9 506.4L571.4 493.5"/>
<text class="n" x="616.8" y="541.3" text-anchor="middle" textLength="14.6" lengthAdjust="spacingAndGlyphs">27</text>
<path class="ld" d="M618.5 526.5L620.4 508.8"/>
<text class="n" x="681.9" y="600.8" text-anchor="middle" textLength="14.6" lengthAdjust="spacingAndGlyphs">26</text>
<path class="ld" d="M680.7 588.4L669 563.7"/>
<text class="n" x="623.8" y="636.7" text-anchor="middle" textLength="14.6" lengthAdjust="spacingAndGlyphs">25</text>
<path class="ld" d="M622.5 624.5L613.6 608.8"/>
<text class="n" x="757.6" y="125.3" text-anchor="middle" textLength="14.6" lengthAdjust="spacingAndGlyphs">10</text>
<path class="ld" d="M754.9 127.8L748 149"/>
<text class="n" x="721.8" y="213.7" text-anchor="middle" textLength="7.3" lengthAdjust="spacingAndGlyphs">9</text>
<path class="ld" d="M727.1 208.3L759 218.6"/>
<text class="n" x="943.5" y="234" text-anchor="middle" textLength="14.6" lengthAdjust="spacingAndGlyphs">14</text>
<path class="ld" d="M944.4 237L933.6 258"/>
<text class="n" x="802" y="353.8" text-anchor="middle" textLength="14.6" lengthAdjust="spacingAndGlyphs">17</text>
<path class="ld" d="M810 348.4L830 348"/>
<text class="n" x="821.9" y="471.8" text-anchor="middle" textLength="14.6" lengthAdjust="spacingAndGlyphs">19</text>
<path class="ld" d="M820.3 460.6L805.4 439.8"/>
<text class="n" x="777.7" y="499.7" text-anchor="middle" textLength="14.6" lengthAdjust="spacingAndGlyphs">29</text>
<path class="ld" d="M775.5 486.6L766.4 456.7"/>
<text class="n" x="740.4" y="576.7" text-anchor="middle" textLength="14.6" lengthAdjust="spacingAndGlyphs">24</text>
<path class="ld" d="M748.7 563.5L757.3 555.3"/>
<text class="n" x="734.9" y="653.2" text-anchor="middle" textLength="14.6" lengthAdjust="spacingAndGlyphs">23</text>
<path class="ld" d="M734.9 641.2L736.3 624.6"/>
<text class="n" x="803.7" y="686.9" text-anchor="middle" textLength="14.6" lengthAdjust="spacingAndGlyphs">20</text>
<path class="ld" d="M805.2 673.1L806.4 653.1"/>
<text class="n" x="962.8" y="647.9" text-anchor="middle" textLength="14.6" lengthAdjust="spacingAndGlyphs">21</text>
<path class="ld" d="M955.4 649.2L941.7 659.1"/>
<text class="n" x="883.3" y="717.8" text-anchor="middle" textLength="14.6" lengthAdjust="spacingAndGlyphs">22</text>
<path class="ld" d="M892.5 711.3L904.5 709.3"/>
<text class="n" x="146.1" y="576.1" text-anchor="middle" textLength="14.6" lengthAdjust="spacingAndGlyphs">60</text>
<path class="ld2" d="M136.3 565.8L125.2 562.1"/>
<path class="ld2" d="M156.7 572.7L169.9 575"/>
<path class="ld" d="M335 509L400.5 536.5" stroke-dasharray="14 3 2 3"/>

</g>

</svg>
</body></html>
